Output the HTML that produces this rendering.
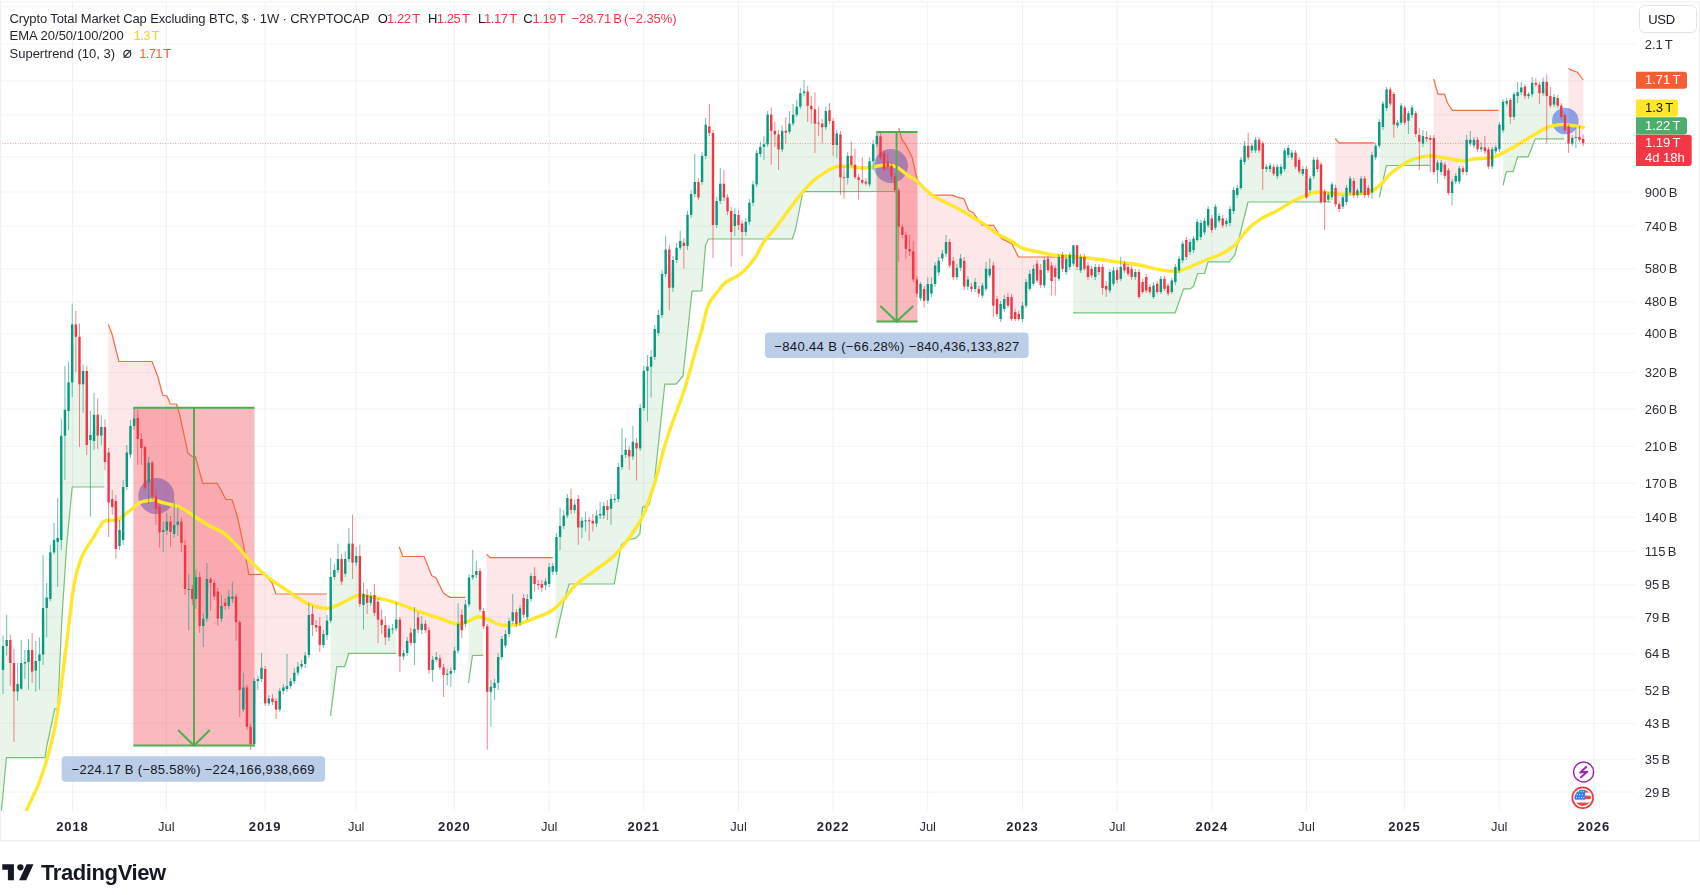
<!DOCTYPE html>
<html><head><meta charset="utf-8"><title>Crypto Total Market Cap Excluding BTC</title>
<style>
html,body{margin:0;padding:0;background:#fff;}
body{width:1700px;height:895px;overflow:hidden;position:relative;font-family:"Liberation Sans",sans-serif;}
svg{position:absolute;left:0;top:0;}
svg text{font-family:"Liberation Sans",sans-serif;}
</style></head><body>
<svg width="1700" height="895" viewBox="0 0 1700 895">
<defs><clipPath id="chartclip"><rect x="1" y="2" width="1634" height="809"/></clipPath></defs>
<g style="opacity:0.995"><g clip-path="url(#chartclip)">
<line x1="0" y1="6.69" x2="1635" y2="6.69" stroke="#f6f6f6" stroke-width="1.2"/>
<line x1="0" y1="44.00" x2="1635" y2="44.00" stroke="#f6f6f6" stroke-width="1.2"/>
<line x1="0" y1="80.92" x2="1635" y2="80.92" stroke="#f6f6f6" stroke-width="1.2"/>
<line x1="0" y1="114.83" x2="1635" y2="114.83" stroke="#f6f6f6" stroke-width="1.2"/>
<line x1="0" y1="156.97" x2="1635" y2="156.97" stroke="#f6f6f6" stroke-width="1.2"/>
<line x1="0" y1="192.02" x2="1635" y2="192.02" stroke="#f6f6f6" stroke-width="1.2"/>
<line x1="0" y1="226.22" x2="1635" y2="226.22" stroke="#f6f6f6" stroke-width="1.2"/>
<line x1="0" y1="268.78" x2="1635" y2="268.78" stroke="#f6f6f6" stroke-width="1.2"/>
<line x1="0" y1="301.84" x2="1635" y2="301.84" stroke="#f6f6f6" stroke-width="1.2"/>
<line x1="0" y1="333.69" x2="1635" y2="333.69" stroke="#f6f6f6" stroke-width="1.2"/>
<line x1="0" y1="372.68" x2="1635" y2="372.68" stroke="#f6f6f6" stroke-width="1.2"/>
<line x1="0" y1="408.95" x2="1635" y2="408.95" stroke="#f6f6f6" stroke-width="1.2"/>
<line x1="0" y1="446.26" x2="1635" y2="446.26" stroke="#f6f6f6" stroke-width="1.2"/>
<line x1="0" y1="483.18" x2="1635" y2="483.18" stroke="#f6f6f6" stroke-width="1.2"/>
<line x1="0" y1="517.10" x2="1635" y2="517.10" stroke="#f6f6f6" stroke-width="1.2"/>
<line x1="0" y1="551.46" x2="1635" y2="551.46" stroke="#f6f6f6" stroke-width="1.2"/>
<line x1="0" y1="584.84" x2="1635" y2="584.84" stroke="#f6f6f6" stroke-width="1.2"/>
<line x1="0" y1="617.06" x2="1635" y2="617.06" stroke="#f6f6f6" stroke-width="1.2"/>
<line x1="0" y1="653.84" x2="1635" y2="653.84" stroke="#f6f6f6" stroke-width="1.2"/>
<line x1="0" y1="690.12" x2="1635" y2="690.12" stroke="#f6f6f6" stroke-width="1.2"/>
<line x1="0" y1="723.32" x2="1635" y2="723.32" stroke="#f6f6f6" stroke-width="1.2"/>
<line x1="0" y1="759.28" x2="1635" y2="759.28" stroke="#f6f6f6" stroke-width="1.2"/>
<line x1="0" y1="792.13" x2="1635" y2="792.13" stroke="#f6f6f6" stroke-width="1.2"/>
<line x1="72.5" y1="2" x2="72.5" y2="811" stroke="#f1f1f2" stroke-width="1"/>
<line x1="166.3" y1="2" x2="166.3" y2="811" stroke="#f1f1f2" stroke-width="1"/>
<line x1="265.1" y1="2" x2="265.1" y2="811" stroke="#f1f1f2" stroke-width="1"/>
<line x1="356.2" y1="2" x2="356.2" y2="811" stroke="#f1f1f2" stroke-width="1"/>
<line x1="454.3" y1="2" x2="454.3" y2="811" stroke="#f1f1f2" stroke-width="1"/>
<line x1="549.2" y1="2" x2="549.2" y2="811" stroke="#f1f1f2" stroke-width="1"/>
<line x1="643.7" y1="2" x2="643.7" y2="811" stroke="#f1f1f2" stroke-width="1"/>
<line x1="738.5" y1="2" x2="738.5" y2="811" stroke="#f1f1f2" stroke-width="1"/>
<line x1="833.1" y1="2" x2="833.1" y2="811" stroke="#f1f1f2" stroke-width="1"/>
<line x1="927.7" y1="2" x2="927.7" y2="811" stroke="#f1f1f2" stroke-width="1"/>
<line x1="1022.5" y1="2" x2="1022.5" y2="811" stroke="#f1f1f2" stroke-width="1"/>
<line x1="1117.2" y1="2" x2="1117.2" y2="811" stroke="#f1f1f2" stroke-width="1"/>
<line x1="1211.8" y1="2" x2="1211.8" y2="811" stroke="#f1f1f2" stroke-width="1"/>
<line x1="1306.5" y1="2" x2="1306.5" y2="811" stroke="#f1f1f2" stroke-width="1"/>
<line x1="1404.4" y1="2" x2="1404.4" y2="811" stroke="#f1f1f2" stroke-width="1"/>
<line x1="1499.2" y1="2" x2="1499.2" y2="811" stroke="#f1f1f2" stroke-width="1"/>
<line x1="1593.8" y1="2" x2="1593.8" y2="811" stroke="#f1f1f2" stroke-width="1"/>
<polygon points="0.0,822.0 2.5,800.0 6.4,757.7 45.0,757.7 47.0,745.0 52.5,720.0 54.7,708.8 57.8,708.8 61.8,620.0 66.7,545.0 72.2,487.0 104.5,487.0 104.5,444.5 105.0,444.5 101.3,431.3 97.7,425.1 94.0,427.9 90.4,437.5 86.8,408.0 83.1,377.6 79.5,360.6 75.8,330.6 72.2,353.4 68.6,396.7 64.9,422.8 61.3,487.9 57.6,540.0 54.0,546.2 50.4,575.7 46.7,602.8 43.1,631.2 39.4,657.8 35.8,665.8 32.2,660.8 28.5,656.0 24.9,662.8 21.2,675.9 17.6,687.8 13.9,677.2 10.3,651.5 6.7,643.0 3.0,658.0 0.0,658.0" fill="rgba(76,175,80,0.12)"/>
<polygon points="108.3,324.4 112.0,334.0 118.9,361.5 152.0,361.5 158.0,377.0 162.6,395.0 167.0,396.0 170.4,404.0 176.5,404.0 179.5,414.0 188.0,453.0 192.0,456.5 195.3,456.5 202.8,483.3 217.0,483.3 220.0,488.0 225.7,499.3 232.0,499.5 237.3,516.3 241.4,535.0 244.5,550.3 248.8,574.4 264.8,574.4 272.2,583.0 275.8,593.8 326.8,594.0 326.8,627.9 327.1,627.9 323.4,639.5 319.8,635.5 316.1,626.2 312.5,619.5 308.9,635.0 305.2,659.8 301.6,665.3 297.9,669.7 294.3,677.0 290.7,683.6 287.0,687.5 283.4,689.2 279.7,700.3 276.1,705.3 272.4,700.2 268.8,701.0 265.2,686.2 261.5,673.4 257.9,680.0 254.2,712.5 250.6,735.4 247.0,707.1 243.3,698.5 239.7,656.1 236.0,609.4 232.4,597.8 228.8,601.2 225.1,604.4 221.5,612.3 217.8,605.1 214.2,589.8 210.6,581.0 206.9,598.8 203.3,622.3 199.6,601.5 196.0,588.0 192.3,594.0 188.7,589.5 185.1,567.0 181.4,532.3 177.8,523.3 174.1,529.5 170.5,526.8 166.9,526.1 163.2,531.0 159.6,519.7 155.9,502.8 152.3,479.6 148.7,472.5 145.0,467.4 141.4,443.5 137.7,428.5 134.1,422.2 130.5,440.3 126.8,469.8 123.2,513.5 119.5,538.0 115.9,525.0 112.2,503.0 108.6,477.5 108.3,477.5" fill="rgba(242,54,69,0.12)"/>
<polygon points="330.5,716.0 336.8,666.7 344.6,666.7 348.8,653.3 396.2,653.3 396.2,624.0 396.2,624.0 392.6,629.0 389.0,633.0 385.3,631.2 381.7,622.3 378.0,610.7 374.4,603.9 370.7,599.4 367.1,598.9 363.5,599.5 359.8,580.0 356.2,559.2 352.5,553.1 348.9,551.3 345.3,566.4 341.6,570.3 338.0,564.5 334.3,573.5 330.7,598.9 330.5,598.9" fill="rgba(76,175,80,0.12)"/>
<polygon points="399.2,546.7 402.8,556.5 424.1,556.5 431.8,575.7 435.7,577.5 443.4,593.0 449.8,597.3 465.4,597.3 465.4,614.1 465.4,614.1 461.8,622.5 458.1,637.2 454.5,660.4 450.8,672.4 447.2,674.4 443.6,671.2 439.9,662.9 436.3,658.4 432.6,664.9 429.0,650.1 425.4,627.0 421.7,626.9 418.1,623.5 414.4,636.0 410.8,637.9 407.2,646.9 403.5,654.7 399.9,638.0 399.2,638.0" fill="rgba(242,54,69,0.12)"/>
<polygon points="468.5,683.0 472.5,655.5 483.2,655.4 483.2,618.6 483.6,618.6 480.0,590.3 476.3,573.0 472.7,576.2 469.1,591.0 468.5,591.0" fill="rgba(76,175,80,0.12)"/>
<polygon points="486.6,554.2 490.0,557.6 552.6,557.6 552.6,568.9 552.8,568.9 549.2,575.5 545.5,583.3 541.9,585.9 538.2,584.6 534.6,580.0 530.9,587.5 527.3,608.1 523.7,606.4 520.0,615.4 516.4,618.0 512.7,616.6 509.1,627.5 505.5,639.8 501.8,648.0 498.2,669.9 494.5,685.4 490.9,689.2 487.3,659.0 486.6,659.0" fill="rgba(242,54,69,0.12)"/>
<polygon points="555.7,638.0 564.0,600.8 569.3,584.0 614.3,583.8 621.2,545.0 627.7,540.0 635.8,538.2 639.8,534.2 642.5,507.4 649.2,504.7 654.5,480.6 664.8,384.2 676.2,384.2 683.0,376.0 692.0,291.2 701.8,291.0 705.5,245.5 708.5,239.0 792.3,239.0 795.4,230.0 802.9,191.6 894.6,191.5 894.6,183.4 895.0,183.4 891.4,171.1 887.8,164.6 884.1,161.1 880.5,146.9 876.8,140.1 873.2,152.7 869.5,172.8 865.9,182.6 862.3,181.3 858.6,178.7 855.0,171.0 851.3,160.2 847.7,166.9 844.1,177.8 840.4,155.9 836.8,139.2 833.1,133.0 829.5,115.6 825.9,119.1 822.2,125.4 818.6,123.2 814.9,116.4 811.3,107.5 807.7,98.7 804.0,92.3 800.4,99.9 796.7,110.7 793.1,119.2 789.4,127.6 785.8,131.7 782.2,140.2 778.5,141.9 774.9,132.6 771.2,122.8 767.6,129.4 764.0,145.6 760.3,150.4 756.7,168.7 753.0,193.6 749.4,212.2 745.8,226.9 742.1,227.8 738.5,220.0 734.8,220.0 731.2,221.5 727.6,204.4 723.9,190.6 720.3,192.3 716.6,213.0 713.0,179.0 709.3,129.7 705.7,140.3 702.1,169.0 698.4,189.8 694.8,188.0 691.1,204.4 687.5,230.4 683.9,244.3 680.2,244.4 676.6,253.9 672.9,273.9 669.3,268.6 665.7,261.8 662.0,294.5 658.4,324.0 654.7,343.0 651.1,361.9 647.5,368.9 643.8,389.4 640.2,428.2 636.5,445.7 632.9,449.1 629.3,453.1 625.6,452.4 622.0,461.0 618.3,483.0 614.7,499.4 611.0,503.9 607.4,508.0 603.8,510.8 600.1,514.8 596.5,519.5 592.8,522.1 589.2,520.8 585.6,520.8 581.9,524.1 578.3,513.2 574.6,507.4 571.0,504.5 567.4,506.8 563.7,520.8 560.1,531.5 556.4,554.4 555.7,554.4" fill="rgba(76,175,80,0.12)"/>
<polygon points="898.8,128.4 901.7,138.8 906.4,145.8 912.2,157.5 916.9,178.7 919.5,182.5 924.0,187.5 929.0,193.0 933.0,195.1 952.1,195.1 958.0,197.4 963.9,198.6 968.5,210.3 973.2,212.7 979.1,220.9 982.6,225.3 993.4,225.3 1001.8,238.6 1011.8,243.6 1018.5,257.0 1070.0,257.0 1070.0,261.0 1069.8,261.0 1066.2,265.4 1062.5,261.9 1058.9,267.9 1055.2,272.5 1051.6,273.2 1047.9,264.5 1044.3,272.8 1040.7,277.5 1037.0,272.1 1033.4,276.3 1029.7,281.4 1026.1,293.8 1022.5,312.3 1018.8,316.5 1015.2,315.5 1011.5,308.0 1007.9,301.3 1004.3,304.0 1000.6,311.5 997.0,306.5 993.3,285.5 989.7,272.1 986.1,278.9 982.4,290.6 978.8,291.3 975.1,285.5 971.5,287.8 967.8,283.1 964.2,273.7 960.6,263.1 956.9,272.5 953.3,269.0 949.6,253.8 946.0,247.8 942.4,256.0 938.7,266.6 935.1,274.8 931.4,288.8 927.8,292.4 924.2,294.9 920.5,291.1 916.9,286.6 913.2,265.4 909.6,250.2 906.0,242.0 902.3,230.9 898.7,208.6 898.8,208.6" fill="rgba(242,54,69,0.12)"/>
<polygon points="1073.0,312.8 1175.2,312.8 1183.6,288.9 1190.3,288.9 1193.6,286.3 1197.6,273.5 1204.6,273.5 1208.0,261.8 1229.2,261.8 1235.0,254.7 1248.0,202.0 1331.3,202.0 1331.3,197.2 1328.3,197.2 1324.7,196.7 1321.0,183.2 1317.4,164.3 1313.7,167.9 1310.1,184.3 1306.4,183.2 1302.8,171.4 1299.2,165.6 1295.5,159.8 1291.9,155.1 1288.2,151.5 1284.6,159.7 1281.0,170.3 1277.3,171.5 1273.7,170.3 1270.0,167.3 1266.4,167.9 1262.8,156.2 1259.1,145.1 1255.5,145.1 1251.8,148.1 1248.2,151.6 1244.6,153.8 1240.9,173.8 1237.3,191.5 1233.6,200.5 1230.0,216.0 1226.3,222.4 1222.7,221.9 1219.1,218.3 1215.4,217.1 1211.8,224.2 1208.1,217.2 1204.5,226.6 1200.9,230.0 1197.2,230.9 1193.6,244.3 1189.9,247.0 1186.3,248.5 1182.7,252.0 1179.0,264.5 1175.4,274.5 1171.7,286.2 1168.1,289.6 1164.5,283.9 1160.8,285.4 1157.2,287.9 1153.5,291.2 1149.9,289.5 1146.3,283.8 1142.6,287.0 1139.0,284.5 1135.3,274.5 1131.7,272.9 1128.0,270.4 1124.4,267.0 1120.8,272.8 1117.1,275.0 1113.5,277.1 1109.8,281.2 1106.2,287.8 1102.6,277.5 1098.9,269.5 1095.3,272.0 1091.6,272.1 1088.0,271.2 1084.4,262.9 1080.7,263.7 1077.1,256.1 1073.4,254.5 1073.0,254.5" fill="rgba(76,175,80,0.12)"/>
<polygon points="1335.3,138.6 1339.0,142.9 1374.6,142.9 1374.6,173.8 1372.0,173.8 1368.3,191.4 1364.7,186.8 1361.1,185.6 1357.4,192.6 1353.8,187.9 1350.1,185.6 1346.5,194.9 1342.9,201.9 1339.2,206.7 1335.6,196.1 1335.3,196.1" fill="rgba(242,54,69,0.12)"/>
<polygon points="1379.3,197.3 1386.5,165.5 1429.8,165.4 1429.8,138.9 1430.2,138.9 1426.6,137.9 1423.0,139.8 1419.3,138.3 1415.7,123.6 1412.0,111.3 1408.4,117.0 1404.8,115.1 1401.1,114.2 1397.5,124.1 1393.8,109.3 1390.2,96.5 1386.5,98.7 1382.9,115.2 1379.3,133.8 1379.3,133.8" fill="rgba(76,175,80,0.12)"/>
<polygon points="1433.6,79.0 1438.0,94.2 1444.6,94.2 1447.4,102.7 1452.2,110.3 1498.7,110.3 1498.7,149.3 1495.8,149.3 1492.1,157.9 1488.5,157.9 1484.8,149.3 1481.2,148.4 1477.6,144.6 1473.9,142.7 1470.3,141.7 1466.6,155.9 1463.0,170.2 1459.4,174.9 1455.7,178.8 1452.1,187.3 1448.4,181.6 1444.8,170.2 1441.2,167.3 1437.5,166.4 1433.9,154.9 1433.6,154.9" fill="rgba(242,54,69,0.12)"/>
<polygon points="1503.1,185.4 1506.3,171.7 1513.0,171.7 1517.7,156.9 1528.2,156.9 1535.4,138.8 1564.3,138.8 1564.3,111.3 1561.3,111.3 1557.7,101.8 1554.0,100.8 1550.4,100.8 1546.7,88.9 1543.1,87.5 1539.5,89.0 1535.8,83.8 1532.2,88.5 1528.5,95.2 1524.9,91.3 1521.3,89.9 1517.6,94.2 1514.0,105.6 1510.3,108.5 1506.7,102.2 1503.1,116.1 1503.1,116.1" fill="rgba(76,175,80,0.12)"/>
<polygon points="1568.4,68.5 1571.9,70.4 1577.6,72.3 1583.3,80.0 1583.3,141.1 1583.2,141.1 1579.5,138.4 1575.9,137.4 1572.2,140.8 1568.6,135.1 1568.4,135.1" fill="rgba(242,54,69,0.12)"/>
<circle cx="156.3" cy="496" r="18" fill="rgba(35,85,225,0.5)"/>
<circle cx="891" cy="166" r="17" fill="rgba(35,85,225,0.5)"/>
<circle cx="1565.3" cy="121" r="13.3" fill="rgba(35,85,225,0.5)"/>
<rect x="133.3" y="407.8" width="121.2" height="337.7" fill="rgba(242,54,69,0.35)"/>
<rect x="876.5" y="131.9" width="41" height="189.6" fill="rgba(242,54,69,0.35)"/>
<polyline points="0.0,822.0 2.5,800.0 6.4,757.7 45.0,757.7 47.0,745.0 52.5,720.0 54.7,708.8 57.8,708.8 61.8,620.0 66.7,545.0 72.2,487.0 104.5,487.0" fill="none" stroke="#4CAF50" stroke-width="1.2" stroke-opacity="0.75" stroke-linejoin="round"/>
<polyline points="108.3,324.4 112.0,334.0 118.9,361.5 152.0,361.5 158.0,377.0 162.6,395.0 167.0,396.0 170.4,404.0 176.5,404.0 179.5,414.0 188.0,453.0 192.0,456.5 195.3,456.5 202.8,483.3 217.0,483.3 220.0,488.0 225.7,499.3 232.0,499.5 237.3,516.3 241.4,535.0 244.5,550.3 248.8,574.4 264.8,574.4 272.2,583.0 275.8,593.8 326.8,594.0" fill="none" stroke="#F2653A" stroke-width="1.2" stroke-opacity="0.95" stroke-linejoin="round"/>
<polyline points="330.5,716.0 336.8,666.7 344.6,666.7 348.8,653.3 396.2,653.3" fill="none" stroke="#4CAF50" stroke-width="1.2" stroke-opacity="0.75" stroke-linejoin="round"/>
<polyline points="399.2,546.7 402.8,556.5 424.1,556.5 431.8,575.7 435.7,577.5 443.4,593.0 449.8,597.3 465.4,597.3" fill="none" stroke="#F2653A" stroke-width="1.2" stroke-opacity="0.95" stroke-linejoin="round"/>
<polyline points="468.5,683.0 472.5,655.5 483.2,655.4" fill="none" stroke="#4CAF50" stroke-width="1.2" stroke-opacity="0.75" stroke-linejoin="round"/>
<polyline points="486.6,554.2 490.0,557.6 552.6,557.6" fill="none" stroke="#F2653A" stroke-width="1.2" stroke-opacity="0.95" stroke-linejoin="round"/>
<polyline points="555.7,638.0 564.0,600.8 569.3,584.0 614.3,583.8 621.2,545.0 627.7,540.0 635.8,538.2 639.8,534.2 642.5,507.4 649.2,504.7 654.5,480.6 664.8,384.2 676.2,384.2 683.0,376.0 692.0,291.2 701.8,291.0 705.5,245.5 708.5,239.0 792.3,239.0 795.4,230.0 802.9,191.6 894.6,191.5" fill="none" stroke="#4CAF50" stroke-width="1.2" stroke-opacity="0.75" stroke-linejoin="round"/>
<polyline points="898.8,128.4 901.7,138.8 906.4,145.8 912.2,157.5 916.9,178.7 919.5,182.5 924.0,187.5 929.0,193.0 933.0,195.1 952.1,195.1 958.0,197.4 963.9,198.6 968.5,210.3 973.2,212.7 979.1,220.9 982.6,225.3 993.4,225.3 1001.8,238.6 1011.8,243.6 1018.5,257.0 1070.0,257.0" fill="none" stroke="#F2653A" stroke-width="1.2" stroke-opacity="0.95" stroke-linejoin="round"/>
<polyline points="1073.0,312.8 1175.2,312.8 1183.6,288.9 1190.3,288.9 1193.6,286.3 1197.6,273.5 1204.6,273.5 1208.0,261.8 1229.2,261.8 1235.0,254.7 1248.0,202.0 1331.3,202.0" fill="none" stroke="#4CAF50" stroke-width="1.2" stroke-opacity="0.75" stroke-linejoin="round"/>
<polyline points="1335.3,138.6 1339.0,142.9 1374.6,142.9" fill="none" stroke="#F2653A" stroke-width="1.2" stroke-opacity="0.95" stroke-linejoin="round"/>
<polyline points="1379.3,197.3 1386.5,165.5 1429.8,165.4" fill="none" stroke="#4CAF50" stroke-width="1.2" stroke-opacity="0.75" stroke-linejoin="round"/>
<polyline points="1433.6,79.0 1438.0,94.2 1444.6,94.2 1447.4,102.7 1452.2,110.3 1498.7,110.3" fill="none" stroke="#F2653A" stroke-width="1.2" stroke-opacity="0.95" stroke-linejoin="round"/>
<polyline points="1503.1,185.4 1506.3,171.7 1513.0,171.7 1517.7,156.9 1528.2,156.9 1535.4,138.8 1564.3,138.8" fill="none" stroke="#4CAF50" stroke-width="1.2" stroke-opacity="0.75" stroke-linejoin="round"/>
<polyline points="1568.4,68.5 1571.9,70.4 1577.6,72.3 1583.3,80.0" fill="none" stroke="#F2653A" stroke-width="1.2" stroke-opacity="0.95" stroke-linejoin="round"/>
<path d="M23.5,822.0 C24.0,820.1 23.8,817.3 26.5,810.5 C29.2,803.7 35.8,791.8 39.8,781.0 C43.8,770.2 47.6,757.7 50.6,746.0 C53.6,734.3 55.2,727.7 57.9,710.7 C60.5,693.7 63.8,665.2 66.5,644.0 C69.2,622.8 71.7,598.2 74.3,583.6 C76.9,569.0 78.8,564.1 82.1,556.3 C85.4,548.5 90.3,542.5 93.9,536.7 C97.5,531.0 100.3,524.5 103.6,521.8 C106.8,519.1 110.8,520.8 113.4,520.3 C116.0,519.8 116.7,520.5 119.3,519.0 C121.9,517.5 125.5,514.0 129.0,511.3 C132.4,508.6 136.6,504.3 140.0,502.5 C143.4,500.7 147.2,500.9 149.7,500.5 C152.2,500.1 152.9,499.7 155.0,500.0 C157.1,500.3 158.0,501.3 162.2,502.5 C166.4,503.7 174.6,505.0 180.0,507.3 C185.4,509.6 189.6,513.3 194.4,516.3 C199.2,519.3 203.9,522.8 208.7,525.5 C213.4,528.2 218.3,529.2 222.9,532.5 C227.5,535.8 231.8,540.3 236.3,545.0 C240.8,549.7 244.5,555.2 249.7,560.5 C254.9,565.8 260.9,571.5 267.6,576.8 C274.3,582.1 283.3,587.9 290.0,592.4 C296.7,596.9 301.7,601.0 307.8,603.6 C313.9,606.2 321.2,608.3 326.7,608.3 C332.2,608.3 335.9,605.7 340.8,603.6 C345.8,601.5 351.7,597.0 356.4,595.8 C361.1,594.6 362.6,595.3 368.9,596.4 C375.2,597.5 385.6,599.6 394.0,602.1 C402.4,604.6 411.7,608.9 419.0,611.5 C426.3,614.1 431.5,615.6 437.8,617.7 C444.1,619.8 451.4,623.5 456.6,624.0 C461.8,624.5 465.5,622.0 469.1,620.8 C472.8,619.6 475.4,617.0 478.5,616.8 C481.6,616.5 484.2,617.9 487.9,619.3 C491.5,620.6 495.7,624.0 500.4,624.9 C505.1,625.8 510.8,625.5 516.0,624.6 C521.2,623.7 526.0,621.5 531.7,619.3 C537.5,617.1 545.3,614.6 550.5,611.5 C555.7,608.4 558.8,604.9 563.0,600.5 C567.2,596.1 570.3,589.9 575.5,584.9 C580.7,579.9 588.0,575.5 594.3,570.8 C600.6,566.1 607.9,561.4 613.1,556.7 C618.3,552.0 620.9,548.9 625.6,542.6 C630.3,536.3 637.3,526.5 641.3,519.1 C645.3,511.7 647.1,504.5 649.5,498.0 C651.9,491.5 653.1,488.6 655.6,480.0 C658.1,471.4 661.7,456.0 664.5,446.5 C667.3,437.0 669.9,429.9 672.3,423.0 C674.7,416.1 676.8,411.3 679.0,405.0 C681.2,398.7 683.2,393.6 685.8,385.0 C688.4,376.4 692.1,362.6 694.7,353.7 C697.3,344.8 699.2,339.4 701.4,331.4 C703.6,323.4 705.5,312.2 708.1,305.7 C710.7,299.2 714.0,296.2 717.0,292.3 C720.0,288.4 722.1,285.3 726.0,282.2 C729.9,279.1 735.9,277.8 740.6,273.8 C745.4,269.9 750.6,263.8 754.5,258.5 C758.4,253.2 760.2,247.2 763.8,242.0 C767.4,236.8 771.9,232.4 776.0,227.2 C780.1,221.9 784.3,215.9 788.4,210.5 C792.5,205.1 796.5,199.4 800.6,194.5 C804.7,189.6 808.5,185.0 813.0,181.0 C817.5,177.0 823.6,173.0 827.7,170.6 C831.8,168.2 834.2,167.0 837.5,166.3 C840.8,165.6 842.7,166.0 847.3,166.3 C851.9,166.6 859.8,168.1 865.1,168.0 C870.5,167.9 875.5,166.4 879.4,165.8 C883.3,165.2 885.7,164.2 888.8,164.6 C891.9,165.0 895.1,166.2 898.2,168.0 C901.3,169.8 904.4,172.9 907.5,175.1 C910.6,177.3 913.8,178.4 916.9,181.0 C920.0,183.6 923.2,187.7 926.3,190.4 C929.4,193.1 932.2,195.2 935.7,197.4 C939.2,199.6 943.5,201.3 947.4,203.3 C951.3,205.3 955.3,207.0 959.2,209.2 C963.1,211.3 967.0,213.9 970.9,216.2 C974.8,218.5 978.3,220.3 982.6,223.2 C986.9,226.1 992.2,230.8 996.8,233.6 C1001.4,236.4 1005.8,237.9 1010.0,240.3 C1014.2,242.7 1017.1,245.9 1021.9,247.8 C1026.7,249.8 1033.0,250.8 1038.6,252.0 C1044.2,253.2 1049.8,254.6 1055.4,255.3 C1061.0,256.1 1065.2,255.8 1072.2,256.5 C1079.2,257.1 1088.9,258.2 1097.3,259.2 C1105.7,260.2 1115.4,261.6 1122.4,262.6 C1129.4,263.6 1133.6,264.0 1139.2,265.0 C1144.8,266.0 1150.4,267.8 1156.0,268.8 C1161.6,269.9 1168.5,271.0 1172.7,271.3 C1176.9,271.6 1175.9,272.1 1181.0,270.4 C1186.1,268.7 1197.0,263.6 1203.5,261.0 C1210.0,258.4 1214.8,257.1 1220.0,254.5 C1225.2,251.9 1231.1,248.3 1234.5,245.6 C1237.9,242.8 1238.0,241.0 1240.5,238.0 C1243.0,235.0 1246.1,230.8 1249.6,227.5 C1253.1,224.2 1257.1,221.2 1261.6,218.4 C1266.1,215.6 1271.2,213.9 1276.7,210.9 C1282.2,207.9 1288.8,203.3 1294.8,200.3 C1300.8,197.3 1308.7,194.2 1313.0,192.8 C1317.3,191.5 1315.5,192.0 1320.7,192.2 C1325.9,192.4 1336.2,194.2 1344.0,194.2 C1351.8,194.2 1361.6,193.9 1367.6,192.4 C1373.6,190.9 1376.3,188.4 1380.0,185.4 C1383.7,182.4 1386.3,177.5 1389.5,174.5 C1392.7,171.5 1395.2,169.8 1399.0,167.3 C1402.8,164.8 1407.2,161.4 1412.3,159.5 C1417.4,157.6 1424.0,156.2 1429.4,155.9 C1434.8,155.6 1439.2,157.0 1444.6,157.8 C1450.0,158.6 1456.6,160.5 1461.7,160.7 C1466.8,160.9 1469.6,159.4 1475.0,158.8 C1480.4,158.2 1487.7,158.8 1494.0,156.9 C1500.3,155.0 1506.7,150.9 1513.0,147.4 C1519.3,143.9 1526.3,139.3 1532.0,136.0 C1537.7,132.7 1542.5,129.3 1547.2,127.4 C1552.0,125.5 1556.7,125.0 1560.5,124.6 C1564.3,124.2 1566.2,124.7 1570.0,125.2 C1573.8,125.7 1581.1,127.0 1583.3,127.4" fill="none" stroke="#FFE72B" stroke-width="3.4" stroke-linejoin="round" stroke-linecap="round"/>
<rect x="2.52" y="635.5" width="1" height="58.5" fill="#089981" opacity="0.6"/>
<rect x="1.82" y="646.0" width="2.4" height="24.0" fill="#089981"/>
<rect x="6.16" y="614.7" width="1" height="40.8" fill="#089981" opacity="0.6"/>
<rect x="5.46" y="640.0" width="2.4" height="6.0" fill="#089981"/>
<rect x="9.81" y="634.6" width="1" height="51.4" fill="#F23645" opacity="0.6"/>
<rect x="9.11" y="640.0" width="2.4" height="23.0" fill="#F23645"/>
<rect x="13.45" y="648.8" width="1" height="93.0" fill="#F23645" opacity="0.6"/>
<rect x="12.75" y="663.0" width="2.4" height="28.5" fill="#F23645"/>
<rect x="17.09" y="663.0" width="1" height="38.0" fill="#089981" opacity="0.6"/>
<rect x="16.39" y="684.0" width="2.4" height="7.5" fill="#089981"/>
<rect x="20.73" y="640.0" width="1" height="49.5" fill="#089981" opacity="0.6"/>
<rect x="20.03" y="663.0" width="2.4" height="25.7" fill="#089981"/>
<rect x="24.37" y="650.0" width="1" height="29.0" fill="#089981" opacity="0.6"/>
<rect x="23.67" y="662.0" width="2.4" height="1.5" fill="#089981"/>
<rect x="28.01" y="639.0" width="1" height="50.6" fill="#089981" opacity="0.6"/>
<rect x="27.31" y="650.0" width="2.4" height="12.0" fill="#089981"/>
<rect x="31.65" y="633.0" width="1" height="50.0" fill="#F23645" opacity="0.6"/>
<rect x="30.95" y="650.0" width="2.4" height="21.6" fill="#F23645"/>
<rect x="35.29" y="641.0" width="1" height="50.5" fill="#089981" opacity="0.6"/>
<rect x="34.59" y="661.0" width="2.4" height="9.6" fill="#089981"/>
<rect x="38.93" y="637.4" width="1" height="52.2" fill="#089981" opacity="0.6"/>
<rect x="38.23" y="654.5" width="2.4" height="6.5" fill="#089981"/>
<rect x="42.57" y="555.0" width="1" height="110.0" fill="#089981" opacity="0.6"/>
<rect x="41.87" y="608.0" width="2.4" height="46.5" fill="#089981"/>
<rect x="46.21" y="583.0" width="1" height="54.4" fill="#089981" opacity="0.6"/>
<rect x="45.51" y="597.6" width="2.4" height="10.4" fill="#089981"/>
<rect x="49.86" y="545.0" width="1" height="56.3" fill="#089981" opacity="0.6"/>
<rect x="49.16" y="552.4" width="2.4" height="46.6" fill="#089981"/>
<rect x="53.50" y="523.0" width="1" height="31.3" fill="#089981" opacity="0.6"/>
<rect x="52.80" y="540.0" width="2.4" height="12.4" fill="#089981"/>
<rect x="57.14" y="498.0" width="1" height="88.9" fill="#089981" opacity="0.6"/>
<rect x="56.44" y="538.0" width="2.4" height="4.0" fill="#089981"/>
<rect x="60.78" y="418.4" width="1" height="131.6" fill="#089981" opacity="0.6"/>
<rect x="60.08" y="435.7" width="2.4" height="104.3" fill="#089981"/>
<rect x="64.42" y="366.0" width="1" height="114.0" fill="#089981" opacity="0.6"/>
<rect x="63.72" y="409.8" width="2.4" height="25.9" fill="#089981"/>
<rect x="68.06" y="361.5" width="1" height="68.5" fill="#089981" opacity="0.6"/>
<rect x="67.36" y="382.4" width="2.4" height="28.6" fill="#089981"/>
<rect x="71.70" y="303.5" width="1" height="93.5" fill="#089981" opacity="0.6"/>
<rect x="71.00" y="324.4" width="2.4" height="58.0" fill="#089981"/>
<rect x="75.34" y="311.0" width="1" height="61.0" fill="#F23645" opacity="0.6"/>
<rect x="74.64" y="324.4" width="2.4" height="12.4" fill="#F23645"/>
<rect x="78.98" y="323.5" width="1" height="123.5" fill="#F23645" opacity="0.6"/>
<rect x="78.28" y="336.8" width="2.4" height="47.5" fill="#F23645"/>
<rect x="82.62" y="364.3" width="1" height="48.5" fill="#089981" opacity="0.6"/>
<rect x="81.92" y="371.0" width="2.4" height="13.3" fill="#089981"/>
<rect x="86.26" y="366.0" width="1" height="89.0" fill="#F23645" opacity="0.6"/>
<rect x="85.56" y="371.0" width="2.4" height="74.0" fill="#F23645"/>
<rect x="89.90" y="411.0" width="1" height="105.6" fill="#089981" opacity="0.6"/>
<rect x="89.20" y="435.0" width="2.4" height="5.0" fill="#089981"/>
<rect x="93.55" y="392.8" width="1" height="57.2" fill="#089981" opacity="0.6"/>
<rect x="92.85" y="414.7" width="2.4" height="26.3" fill="#089981"/>
<rect x="97.19" y="398.5" width="1" height="50.5" fill="#F23645" opacity="0.6"/>
<rect x="96.49" y="414.7" width="2.4" height="20.9" fill="#F23645"/>
<rect x="100.83" y="415.6" width="1" height="29.4" fill="#089981" opacity="0.6"/>
<rect x="100.13" y="427.0" width="2.4" height="8.6" fill="#089981"/>
<rect x="104.47" y="419.4" width="1" height="50.6" fill="#F23645" opacity="0.6"/>
<rect x="103.77" y="427.0" width="2.4" height="35.0" fill="#F23645"/>
<rect x="108.11" y="448.0" width="1" height="89.0" fill="#F23645" opacity="0.6"/>
<rect x="107.41" y="452.5" width="2.4" height="50.0" fill="#F23645"/>
<rect x="111.75" y="490.0" width="1" height="25.0" fill="#F23645" opacity="0.6"/>
<rect x="111.05" y="499.0" width="2.4" height="8.0" fill="#F23645"/>
<rect x="115.39" y="495.0" width="1" height="63.8" fill="#F23645" opacity="0.6"/>
<rect x="114.69" y="501.0" width="2.4" height="48.0" fill="#F23645"/>
<rect x="119.03" y="520.0" width="1" height="30.0" fill="#089981" opacity="0.6"/>
<rect x="118.33" y="530.0" width="2.4" height="16.0" fill="#089981"/>
<rect x="122.67" y="480.0" width="1" height="65.0" fill="#089981" opacity="0.6"/>
<rect x="121.97" y="487.0" width="2.4" height="53.0" fill="#089981"/>
<rect x="126.31" y="445.0" width="1" height="45.0" fill="#089981" opacity="0.6"/>
<rect x="125.61" y="452.5" width="2.4" height="34.5" fill="#089981"/>
<rect x="129.95" y="420.0" width="1" height="38.0" fill="#089981" opacity="0.6"/>
<rect x="129.25" y="426.0" width="2.4" height="28.6" fill="#089981"/>
<rect x="133.59" y="408.0" width="1" height="22.0" fill="#089981" opacity="0.6"/>
<rect x="132.89" y="418.5" width="2.4" height="7.5" fill="#089981"/>
<rect x="137.24" y="410.0" width="1" height="55.0" fill="#F23645" opacity="0.6"/>
<rect x="136.54" y="418.0" width="2.4" height="21.0" fill="#F23645"/>
<rect x="140.88" y="433.0" width="1" height="32.0" fill="#F23645" opacity="0.6"/>
<rect x="140.18" y="439.0" width="2.4" height="9.0" fill="#F23645"/>
<rect x="144.52" y="445.6" width="1" height="44.4" fill="#F23645" opacity="0.6"/>
<rect x="143.82" y="447.0" width="2.4" height="40.7" fill="#F23645"/>
<rect x="148.16" y="457.0" width="1" height="46.8" fill="#089981" opacity="0.6"/>
<rect x="147.46" y="462.6" width="2.4" height="19.7" fill="#089981"/>
<rect x="151.80" y="460.8" width="1" height="39.2" fill="#F23645" opacity="0.6"/>
<rect x="151.10" y="462.6" width="2.4" height="34.0" fill="#F23645"/>
<rect x="155.44" y="489.4" width="1" height="35.6" fill="#F23645" opacity="0.6"/>
<rect x="154.74" y="496.6" width="2.4" height="12.4" fill="#F23645"/>
<rect x="159.08" y="505.0" width="1" height="42.6" fill="#F23645" opacity="0.6"/>
<rect x="158.38" y="507.0" width="2.4" height="25.4" fill="#F23645"/>
<rect x="162.72" y="521.6" width="1" height="30.4" fill="#089981" opacity="0.6"/>
<rect x="162.02" y="530.0" width="2.4" height="2.0" fill="#089981"/>
<rect x="166.36" y="512.7" width="1" height="22.3" fill="#089981" opacity="0.6"/>
<rect x="165.66" y="521.6" width="2.4" height="9.0" fill="#089981"/>
<rect x="170.00" y="516.0" width="1" height="30.7" fill="#F23645" opacity="0.6"/>
<rect x="169.30" y="521.6" width="2.4" height="10.4" fill="#F23645"/>
<rect x="173.64" y="500.2" width="1" height="37.8" fill="#089981" opacity="0.6"/>
<rect x="172.94" y="525.0" width="2.4" height="9.0" fill="#089981"/>
<rect x="177.28" y="507.3" width="1" height="28.7" fill="#089981" opacity="0.6"/>
<rect x="176.58" y="521.6" width="2.4" height="3.4" fill="#089981"/>
<rect x="180.93" y="518.0" width="1" height="34.0" fill="#F23645" opacity="0.6"/>
<rect x="180.23" y="521.6" width="2.4" height="21.4" fill="#F23645"/>
<rect x="184.57" y="540.0" width="1" height="55.0" fill="#F23645" opacity="0.6"/>
<rect x="183.87" y="545.0" width="2.4" height="44.0" fill="#F23645"/>
<rect x="188.21" y="574.0" width="1" height="56.0" fill="#089981" opacity="0.6"/>
<rect x="187.51" y="589.0" width="2.4" height="1.0" fill="#089981"/>
<rect x="191.85" y="585.0" width="1" height="20.0" fill="#F23645" opacity="0.6"/>
<rect x="191.15" y="589.0" width="2.4" height="10.0" fill="#F23645"/>
<rect x="195.49" y="569.5" width="1" height="39.3" fill="#089981" opacity="0.6"/>
<rect x="194.79" y="577.0" width="2.4" height="22.0" fill="#089981"/>
<rect x="199.13" y="572.0" width="1" height="61.0" fill="#F23645" opacity="0.6"/>
<rect x="198.43" y="577.0" width="2.4" height="49.0" fill="#F23645"/>
<rect x="202.77" y="613.7" width="1" height="33.3" fill="#089981" opacity="0.6"/>
<rect x="202.07" y="618.6" width="2.4" height="7.4" fill="#089981"/>
<rect x="206.41" y="563.0" width="1" height="59.0" fill="#089981" opacity="0.6"/>
<rect x="205.71" y="579.0" width="2.4" height="39.6" fill="#089981"/>
<rect x="210.05" y="577.0" width="1" height="34.0" fill="#F23645" opacity="0.6"/>
<rect x="209.35" y="579.0" width="2.4" height="4.0" fill="#F23645"/>
<rect x="213.69" y="580.0" width="1" height="20.0" fill="#F23645" opacity="0.6"/>
<rect x="212.99" y="583.0" width="2.4" height="13.5" fill="#F23645"/>
<rect x="217.33" y="588.0" width="1" height="38.0" fill="#F23645" opacity="0.6"/>
<rect x="216.63" y="591.6" width="2.4" height="27.0" fill="#F23645"/>
<rect x="220.97" y="595.0" width="1" height="27.0" fill="#089981" opacity="0.6"/>
<rect x="220.28" y="606.0" width="2.4" height="12.6" fill="#089981"/>
<rect x="224.62" y="598.0" width="1" height="12.0" fill="#F23645" opacity="0.6"/>
<rect x="223.92" y="602.7" width="2.4" height="3.3" fill="#F23645"/>
<rect x="228.26" y="590.0" width="1" height="19.0" fill="#089981" opacity="0.6"/>
<rect x="227.56" y="596.5" width="2.4" height="9.5" fill="#089981"/>
<rect x="231.90" y="581.8" width="1" height="21.2" fill="#089981" opacity="0.6"/>
<rect x="231.20" y="596.5" width="2.4" height="2.5" fill="#089981"/>
<rect x="235.54" y="594.0" width="1" height="46.8" fill="#F23645" opacity="0.6"/>
<rect x="234.84" y="596.5" width="2.4" height="25.8" fill="#F23645"/>
<rect x="239.18" y="620.0" width="1" height="97.0" fill="#F23645" opacity="0.6"/>
<rect x="238.48" y="622.3" width="2.4" height="67.7" fill="#F23645"/>
<rect x="242.82" y="672.7" width="1" height="39.3" fill="#089981" opacity="0.6"/>
<rect x="242.12" y="687.5" width="2.4" height="22.1" fill="#089981"/>
<rect x="246.46" y="685.0" width="1" height="45.0" fill="#F23645" opacity="0.6"/>
<rect x="245.76" y="687.5" width="2.4" height="39.3" fill="#F23645"/>
<rect x="250.10" y="724.0" width="1" height="26.0" fill="#F23645" opacity="0.6"/>
<rect x="249.40" y="726.8" width="2.4" height="17.2" fill="#F23645"/>
<rect x="253.74" y="678.0" width="1" height="69.0" fill="#089981" opacity="0.6"/>
<rect x="253.04" y="681.0" width="2.4" height="63.0" fill="#089981"/>
<rect x="257.38" y="676.0" width="1" height="14.0" fill="#089981" opacity="0.6"/>
<rect x="256.68" y="679.0" width="2.4" height="2.0" fill="#089981"/>
<rect x="261.02" y="653.0" width="1" height="29.0" fill="#089981" opacity="0.6"/>
<rect x="260.32" y="667.8" width="2.4" height="11.2" fill="#089981"/>
<rect x="264.67" y="666.0" width="1" height="40.0" fill="#F23645" opacity="0.6"/>
<rect x="263.97" y="669.0" width="2.4" height="34.4" fill="#F23645"/>
<rect x="268.31" y="695.0" width="1" height="11.0" fill="#089981" opacity="0.6"/>
<rect x="267.61" y="698.5" width="2.4" height="4.9" fill="#089981"/>
<rect x="271.95" y="694.0" width="1" height="11.0" fill="#F23645" opacity="0.6"/>
<rect x="271.25" y="698.5" width="2.4" height="3.5" fill="#F23645"/>
<rect x="275.59" y="698.0" width="1" height="21.0" fill="#F23645" opacity="0.6"/>
<rect x="274.89" y="701.0" width="2.4" height="8.6" fill="#F23645"/>
<rect x="279.23" y="688.0" width="1" height="24.0" fill="#089981" opacity="0.6"/>
<rect x="278.53" y="691.0" width="2.4" height="18.6" fill="#089981"/>
<rect x="282.87" y="684.0" width="1" height="10.0" fill="#089981" opacity="0.6"/>
<rect x="282.17" y="687.5" width="2.4" height="3.5" fill="#089981"/>
<rect x="286.51" y="654.0" width="1" height="38.0" fill="#089981" opacity="0.6"/>
<rect x="285.81" y="686.0" width="2.4" height="3.0" fill="#089981"/>
<rect x="290.15" y="678.0" width="1" height="11.0" fill="#089981" opacity="0.6"/>
<rect x="289.45" y="681.3" width="2.4" height="4.7" fill="#089981"/>
<rect x="293.79" y="668.0" width="1" height="16.0" fill="#089981" opacity="0.6"/>
<rect x="293.09" y="672.7" width="2.4" height="8.6" fill="#089981"/>
<rect x="297.43" y="662.0" width="1" height="14.0" fill="#089981" opacity="0.6"/>
<rect x="296.73" y="666.6" width="2.4" height="6.1" fill="#089981"/>
<rect x="301.07" y="660.0" width="1" height="9.0" fill="#089981" opacity="0.6"/>
<rect x="300.37" y="664.0" width="2.4" height="2.6" fill="#089981"/>
<rect x="304.71" y="652.0" width="1" height="16.0" fill="#089981" opacity="0.6"/>
<rect x="304.01" y="655.5" width="2.4" height="8.5" fill="#089981"/>
<rect x="308.36" y="602.8" width="1" height="55.2" fill="#089981" opacity="0.6"/>
<rect x="307.66" y="615.0" width="2.4" height="40.0" fill="#089981"/>
<rect x="312.00" y="606.0" width="1" height="30.0" fill="#F23645" opacity="0.6"/>
<rect x="311.30" y="614.0" width="2.4" height="11.0" fill="#F23645"/>
<rect x="315.64" y="620.0" width="1" height="12.0" fill="#F23645" opacity="0.6"/>
<rect x="314.94" y="625.0" width="2.4" height="2.5" fill="#F23645"/>
<rect x="319.28" y="617.0" width="1" height="35.0" fill="#F23645" opacity="0.6"/>
<rect x="318.58" y="626.0" width="2.4" height="19.0" fill="#F23645"/>
<rect x="322.92" y="630.0" width="1" height="18.0" fill="#089981" opacity="0.6"/>
<rect x="322.22" y="634.0" width="2.4" height="11.0" fill="#089981"/>
<rect x="326.56" y="615.0" width="1" height="25.0" fill="#089981" opacity="0.6"/>
<rect x="325.86" y="620.7" width="2.4" height="14.3" fill="#089981"/>
<rect x="330.20" y="558.0" width="1" height="65.0" fill="#089981" opacity="0.6"/>
<rect x="329.50" y="577.0" width="2.4" height="43.7" fill="#089981"/>
<rect x="333.84" y="563.7" width="1" height="16.3" fill="#089981" opacity="0.6"/>
<rect x="333.14" y="570.0" width="2.4" height="7.0" fill="#089981"/>
<rect x="337.48" y="543.6" width="1" height="29.4" fill="#089981" opacity="0.6"/>
<rect x="336.78" y="559.0" width="2.4" height="11.0" fill="#089981"/>
<rect x="341.12" y="553.6" width="1" height="31.4" fill="#F23645" opacity="0.6"/>
<rect x="340.42" y="559.0" width="2.4" height="22.6" fill="#F23645"/>
<rect x="344.76" y="551.4" width="1" height="25.6" fill="#089981" opacity="0.6"/>
<rect x="344.06" y="559.0" width="2.4" height="14.7" fill="#089981"/>
<rect x="348.40" y="528.0" width="1" height="34.0" fill="#089981" opacity="0.6"/>
<rect x="347.70" y="543.6" width="2.4" height="15.4" fill="#089981"/>
<rect x="352.05" y="514.5" width="1" height="64.5" fill="#F23645" opacity="0.6"/>
<rect x="351.35" y="543.6" width="2.4" height="19.0" fill="#F23645"/>
<rect x="355.69" y="547.0" width="1" height="19.0" fill="#089981" opacity="0.6"/>
<rect x="354.99" y="555.9" width="2.4" height="6.7" fill="#089981"/>
<rect x="359.33" y="544.7" width="1" height="62.3" fill="#F23645" opacity="0.6"/>
<rect x="358.63" y="555.9" width="2.4" height="48.1" fill="#F23645"/>
<rect x="362.97" y="582.7" width="1" height="46.9" fill="#089981" opacity="0.6"/>
<rect x="362.27" y="593.9" width="2.4" height="11.1" fill="#089981"/>
<rect x="366.61" y="589.0" width="1" height="25.0" fill="#F23645" opacity="0.6"/>
<rect x="365.91" y="595.0" width="2.4" height="7.8" fill="#F23645"/>
<rect x="370.25" y="592.0" width="1" height="14.0" fill="#089981" opacity="0.6"/>
<rect x="369.55" y="596.0" width="2.4" height="6.8" fill="#089981"/>
<rect x="373.89" y="583.8" width="1" height="32.2" fill="#F23645" opacity="0.6"/>
<rect x="373.19" y="595.0" width="2.4" height="17.8" fill="#F23645"/>
<rect x="377.53" y="598.0" width="1" height="45.0" fill="#F23645" opacity="0.6"/>
<rect x="376.83" y="601.7" width="2.4" height="17.9" fill="#F23645"/>
<rect x="381.17" y="609.5" width="1" height="24.5" fill="#F23645" opacity="0.6"/>
<rect x="380.47" y="619.6" width="2.4" height="5.4" fill="#F23645"/>
<rect x="384.81" y="616.2" width="1" height="28.8" fill="#F23645" opacity="0.6"/>
<rect x="384.11" y="625.0" width="2.4" height="12.4" fill="#F23645"/>
<rect x="388.45" y="625.0" width="1" height="16.0" fill="#089981" opacity="0.6"/>
<rect x="387.75" y="628.5" width="2.4" height="8.9" fill="#089981"/>
<rect x="392.09" y="624.0" width="1" height="10.0" fill="#089981" opacity="0.6"/>
<rect x="391.39" y="628.5" width="2.4" height="1.1" fill="#089981"/>
<rect x="395.74" y="602.8" width="1" height="28.2" fill="#089981" opacity="0.6"/>
<rect x="395.04" y="619.6" width="2.4" height="8.9" fill="#089981"/>
<rect x="399.38" y="617.0" width="1" height="55.0" fill="#F23645" opacity="0.6"/>
<rect x="398.68" y="619.6" width="2.4" height="36.8" fill="#F23645"/>
<rect x="403.02" y="650.0" width="1" height="10.0" fill="#089981" opacity="0.6"/>
<rect x="402.32" y="653.0" width="2.4" height="3.4" fill="#089981"/>
<rect x="406.66" y="637.0" width="1" height="19.0" fill="#089981" opacity="0.6"/>
<rect x="405.96" y="640.8" width="2.4" height="12.2" fill="#089981"/>
<rect x="410.30" y="628.0" width="1" height="18.0" fill="#F23645" opacity="0.6"/>
<rect x="409.60" y="632.7" width="2.4" height="10.3" fill="#F23645"/>
<rect x="413.94" y="607.0" width="1" height="58.0" fill="#089981" opacity="0.6"/>
<rect x="413.24" y="629.0" width="2.4" height="14.0" fill="#089981"/>
<rect x="417.58" y="612.0" width="1" height="21.0" fill="#F23645" opacity="0.6"/>
<rect x="416.88" y="617.3" width="2.4" height="12.3" fill="#F23645"/>
<rect x="421.22" y="616.0" width="1" height="18.0" fill="#089981" opacity="0.6"/>
<rect x="420.52" y="623.8" width="2.4" height="6.2" fill="#089981"/>
<rect x="424.86" y="620.0" width="1" height="13.0" fill="#F23645" opacity="0.6"/>
<rect x="424.16" y="623.8" width="2.4" height="6.4" fill="#F23645"/>
<rect x="428.50" y="627.0" width="1" height="46.8" fill="#F23645" opacity="0.6"/>
<rect x="427.80" y="630.2" width="2.4" height="39.8" fill="#F23645"/>
<rect x="432.14" y="656.0" width="1" height="25.6" fill="#089981" opacity="0.6"/>
<rect x="431.44" y="659.7" width="2.4" height="10.3" fill="#089981"/>
<rect x="435.79" y="652.0" width="1" height="10.0" fill="#089981" opacity="0.6"/>
<rect x="435.09" y="657.0" width="2.4" height="2.7" fill="#089981"/>
<rect x="439.43" y="655.0" width="1" height="15.0" fill="#F23645" opacity="0.6"/>
<rect x="438.73" y="658.4" width="2.4" height="9.0" fill="#F23645"/>
<rect x="443.07" y="664.0" width="1" height="33.0" fill="#F23645" opacity="0.6"/>
<rect x="442.37" y="667.4" width="2.4" height="7.6" fill="#F23645"/>
<rect x="446.71" y="668.7" width="1" height="16.7" fill="#089981" opacity="0.6"/>
<rect x="446.01" y="673.8" width="2.4" height="1.2" fill="#089981"/>
<rect x="450.35" y="667.4" width="1" height="19.3" fill="#089981" opacity="0.6"/>
<rect x="449.65" y="671.0" width="2.4" height="2.8" fill="#089981"/>
<rect x="453.99" y="647.0" width="1" height="26.0" fill="#089981" opacity="0.6"/>
<rect x="453.29" y="650.7" width="2.4" height="19.3" fill="#089981"/>
<rect x="457.63" y="603.2" width="1" height="50.8" fill="#089981" opacity="0.6"/>
<rect x="456.93" y="623.8" width="2.4" height="26.9" fill="#089981"/>
<rect x="461.27" y="609.6" width="1" height="28.4" fill="#F23645" opacity="0.6"/>
<rect x="460.57" y="614.8" width="2.4" height="15.4" fill="#F23645"/>
<rect x="464.91" y="600.0" width="1" height="27.0" fill="#089981" opacity="0.6"/>
<rect x="464.21" y="604.5" width="2.4" height="19.3" fill="#089981"/>
<rect x="468.55" y="574.0" width="1" height="33.0" fill="#089981" opacity="0.6"/>
<rect x="467.85" y="577.5" width="2.4" height="27.0" fill="#089981"/>
<rect x="472.19" y="550.0" width="1" height="30.0" fill="#089981" opacity="0.6"/>
<rect x="471.49" y="575.0" width="2.4" height="2.5" fill="#089981"/>
<rect x="475.83" y="560.8" width="1" height="17.2" fill="#089981" opacity="0.6"/>
<rect x="475.13" y="571.0" width="2.4" height="4.0" fill="#089981"/>
<rect x="479.48" y="568.0" width="1" height="44.0" fill="#F23645" opacity="0.6"/>
<rect x="478.78" y="571.0" width="2.4" height="38.6" fill="#F23645"/>
<rect x="483.12" y="608.0" width="1" height="21.0" fill="#F23645" opacity="0.6"/>
<rect x="482.42" y="611.0" width="2.4" height="15.3" fill="#F23645"/>
<rect x="486.76" y="624.0" width="1" height="125.6" fill="#F23645" opacity="0.6"/>
<rect x="486.06" y="626.3" width="2.4" height="65.5" fill="#F23645"/>
<rect x="490.40" y="680.0" width="1" height="46.5" fill="#089981" opacity="0.6"/>
<rect x="489.70" y="686.7" width="2.4" height="5.1" fill="#089981"/>
<rect x="494.04" y="679.0" width="1" height="21.0" fill="#089981" opacity="0.6"/>
<rect x="493.34" y="682.8" width="2.4" height="5.2" fill="#089981"/>
<rect x="497.68" y="653.0" width="1" height="37.0" fill="#089981" opacity="0.6"/>
<rect x="496.98" y="657.0" width="2.4" height="25.8" fill="#089981"/>
<rect x="501.32" y="636.0" width="1" height="24.0" fill="#089981" opacity="0.6"/>
<rect x="500.62" y="639.0" width="2.4" height="18.0" fill="#089981"/>
<rect x="504.96" y="630.0" width="1" height="18.0" fill="#089981" opacity="0.6"/>
<rect x="504.26" y="634.0" width="2.4" height="11.6" fill="#089981"/>
<rect x="508.60" y="618.0" width="1" height="19.0" fill="#089981" opacity="0.6"/>
<rect x="507.90" y="621.0" width="2.4" height="13.0" fill="#089981"/>
<rect x="512.24" y="594.0" width="1" height="30.0" fill="#089981" opacity="0.6"/>
<rect x="511.54" y="612.2" width="2.4" height="8.8" fill="#089981"/>
<rect x="515.88" y="609.0" width="1" height="18.0" fill="#F23645" opacity="0.6"/>
<rect x="515.18" y="612.2" width="2.4" height="11.6" fill="#F23645"/>
<rect x="519.52" y="605.0" width="1" height="21.0" fill="#089981" opacity="0.6"/>
<rect x="518.82" y="608.3" width="2.4" height="14.2" fill="#089981"/>
<rect x="523.17" y="594.0" width="1" height="24.0" fill="#F23645" opacity="0.6"/>
<rect x="522.47" y="598.0" width="2.4" height="16.8" fill="#F23645"/>
<rect x="526.81" y="594.0" width="1" height="26.0" fill="#089981" opacity="0.6"/>
<rect x="526.11" y="599.0" width="2.4" height="18.3" fill="#089981"/>
<rect x="530.45" y="573.0" width="1" height="29.0" fill="#089981" opacity="0.6"/>
<rect x="529.75" y="576.0" width="2.4" height="23.0" fill="#089981"/>
<rect x="534.09" y="567.0" width="1" height="24.6" fill="#F23645" opacity="0.6"/>
<rect x="533.39" y="576.0" width="2.4" height="8.0" fill="#F23645"/>
<rect x="537.73" y="580.0" width="1" height="10.0" fill="#F23645" opacity="0.6"/>
<rect x="537.03" y="584.0" width="2.4" height="1.2" fill="#F23645"/>
<rect x="541.37" y="580.0" width="1" height="12.0" fill="#F23645" opacity="0.6"/>
<rect x="540.67" y="584.0" width="2.4" height="3.8" fill="#F23645"/>
<rect x="545.01" y="578.0" width="1" height="12.0" fill="#089981" opacity="0.6"/>
<rect x="544.31" y="581.4" width="2.4" height="3.8" fill="#089981"/>
<rect x="548.65" y="563.0" width="1" height="24.0" fill="#089981" opacity="0.6"/>
<rect x="547.95" y="567.0" width="2.4" height="17.0" fill="#089981"/>
<rect x="552.29" y="563.0" width="1" height="12.0" fill="#089981" opacity="0.6"/>
<rect x="551.59" y="566.0" width="2.4" height="5.7" fill="#089981"/>
<rect x="555.93" y="533.0" width="1" height="42.0" fill="#089981" opacity="0.6"/>
<rect x="555.23" y="537.0" width="2.4" height="34.7" fill="#089981"/>
<rect x="559.57" y="507.4" width="1" height="42.6" fill="#089981" opacity="0.6"/>
<rect x="558.87" y="526.0" width="2.4" height="11.0" fill="#089981"/>
<rect x="563.21" y="510.0" width="1" height="19.0" fill="#089981" opacity="0.6"/>
<rect x="562.51" y="515.5" width="2.4" height="10.5" fill="#089981"/>
<rect x="566.86" y="494.0" width="1" height="24.0" fill="#089981" opacity="0.6"/>
<rect x="566.16" y="498.0" width="2.4" height="17.5" fill="#089981"/>
<rect x="570.50" y="488.6" width="1" height="25.4" fill="#F23645" opacity="0.6"/>
<rect x="569.80" y="499.0" width="2.4" height="11.0" fill="#F23645"/>
<rect x="574.14" y="500.0" width="1" height="13.0" fill="#089981" opacity="0.6"/>
<rect x="573.44" y="504.7" width="2.4" height="5.3" fill="#089981"/>
<rect x="577.78" y="495.0" width="1" height="50.0" fill="#F23645" opacity="0.6"/>
<rect x="577.08" y="499.0" width="2.4" height="28.5" fill="#F23645"/>
<rect x="581.42" y="517.0" width="1" height="21.0" fill="#089981" opacity="0.6"/>
<rect x="580.72" y="520.8" width="2.4" height="6.7" fill="#089981"/>
<rect x="585.06" y="511.4" width="1" height="20.1" fill="#089981" opacity="0.6"/>
<rect x="584.36" y="520.3" width="2.4" height="1.0" fill="#089981"/>
<rect x="588.70" y="516.8" width="1" height="24.2" fill="#F23645" opacity="0.6"/>
<rect x="588.00" y="520.3" width="2.4" height="1.0" fill="#F23645"/>
<rect x="592.34" y="514.0" width="1" height="17.5" fill="#F23645" opacity="0.6"/>
<rect x="591.64" y="520.8" width="2.4" height="2.7" fill="#F23645"/>
<rect x="595.98" y="510.0" width="1" height="17.0" fill="#089981" opacity="0.6"/>
<rect x="595.28" y="515.5" width="2.4" height="8.0" fill="#089981"/>
<rect x="599.62" y="502.0" width="1" height="17.0" fill="#089981" opacity="0.6"/>
<rect x="598.92" y="514.0" width="2.4" height="1.5" fill="#089981"/>
<rect x="603.26" y="502.0" width="1" height="17.0" fill="#089981" opacity="0.6"/>
<rect x="602.56" y="506.0" width="2.4" height="9.5" fill="#089981"/>
<rect x="606.91" y="500.0" width="1" height="20.0" fill="#F23645" opacity="0.6"/>
<rect x="606.21" y="506.0" width="2.4" height="4.0" fill="#F23645"/>
<rect x="610.55" y="494.0" width="1" height="31.0" fill="#089981" opacity="0.6"/>
<rect x="609.85" y="499.0" width="2.4" height="9.8" fill="#089981"/>
<rect x="614.19" y="494.0" width="1" height="9.0" fill="#089981" opacity="0.6"/>
<rect x="613.49" y="498.8" width="2.4" height="1.1" fill="#089981"/>
<rect x="617.83" y="463.0" width="1" height="39.0" fill="#089981" opacity="0.6"/>
<rect x="617.13" y="467.0" width="2.4" height="32.0" fill="#089981"/>
<rect x="621.47" y="428.3" width="1" height="41.7" fill="#089981" opacity="0.6"/>
<rect x="620.77" y="455.0" width="2.4" height="12.0" fill="#089981"/>
<rect x="625.11" y="437.7" width="1" height="20.3" fill="#089981" opacity="0.6"/>
<rect x="624.41" y="449.8" width="2.4" height="5.2" fill="#089981"/>
<rect x="628.75" y="446.0" width="1" height="24.0" fill="#F23645" opacity="0.6"/>
<rect x="628.05" y="449.8" width="2.4" height="6.7" fill="#F23645"/>
<rect x="632.39" y="425.7" width="1" height="34.3" fill="#089981" opacity="0.6"/>
<rect x="631.69" y="441.7" width="2.4" height="14.8" fill="#089981"/>
<rect x="636.03" y="438.0" width="1" height="42.6" fill="#F23645" opacity="0.6"/>
<rect x="635.33" y="443.0" width="2.4" height="5.4" fill="#F23645"/>
<rect x="639.67" y="404.0" width="1" height="47.0" fill="#089981" opacity="0.6"/>
<rect x="638.97" y="408.0" width="2.4" height="40.4" fill="#089981"/>
<rect x="643.31" y="366.0" width="1" height="45.0" fill="#089981" opacity="0.6"/>
<rect x="642.61" y="370.7" width="2.4" height="37.3" fill="#089981"/>
<rect x="646.95" y="355.0" width="1" height="66.6" fill="#089981" opacity="0.6"/>
<rect x="646.25" y="366.7" width="2.4" height="4.3" fill="#089981"/>
<rect x="650.60" y="350.0" width="1" height="47.5" fill="#089981" opacity="0.6"/>
<rect x="649.90" y="357.0" width="2.4" height="9.7" fill="#089981"/>
<rect x="654.24" y="325.0" width="1" height="35.0" fill="#089981" opacity="0.6"/>
<rect x="653.54" y="329.0" width="2.4" height="28.0" fill="#089981"/>
<rect x="657.88" y="310.0" width="1" height="26.0" fill="#089981" opacity="0.6"/>
<rect x="657.18" y="315.0" width="2.4" height="18.0" fill="#089981"/>
<rect x="661.52" y="270.0" width="1" height="48.0" fill="#089981" opacity="0.6"/>
<rect x="660.82" y="274.0" width="2.4" height="41.0" fill="#089981"/>
<rect x="665.16" y="235.7" width="1" height="41.3" fill="#089981" opacity="0.6"/>
<rect x="664.46" y="249.6" width="2.4" height="24.4" fill="#089981"/>
<rect x="668.80" y="245.0" width="1" height="65.0" fill="#F23645" opacity="0.6"/>
<rect x="668.10" y="249.6" width="2.4" height="38.1" fill="#F23645"/>
<rect x="672.44" y="256.0" width="1" height="36.0" fill="#089981" opacity="0.6"/>
<rect x="671.74" y="260.0" width="2.4" height="27.7" fill="#089981"/>
<rect x="676.08" y="243.0" width="1" height="20.0" fill="#089981" opacity="0.6"/>
<rect x="675.38" y="247.8" width="2.4" height="12.2" fill="#089981"/>
<rect x="679.72" y="230.5" width="1" height="19.5" fill="#089981" opacity="0.6"/>
<rect x="679.02" y="240.9" width="2.4" height="6.9" fill="#089981"/>
<rect x="683.36" y="238.0" width="1" height="30.6" fill="#F23645" opacity="0.6"/>
<rect x="682.66" y="242.6" width="2.4" height="3.4" fill="#F23645"/>
<rect x="687.00" y="211.0" width="1" height="39.0" fill="#089981" opacity="0.6"/>
<rect x="686.30" y="214.9" width="2.4" height="31.1" fill="#089981"/>
<rect x="690.64" y="190.0" width="1" height="28.0" fill="#089981" opacity="0.6"/>
<rect x="689.94" y="194.0" width="2.4" height="20.9" fill="#089981"/>
<rect x="694.29" y="154.0" width="1" height="43.0" fill="#089981" opacity="0.6"/>
<rect x="693.59" y="182.0" width="2.4" height="12.0" fill="#089981"/>
<rect x="697.93" y="178.0" width="1" height="22.0" fill="#F23645" opacity="0.6"/>
<rect x="697.23" y="182.0" width="2.4" height="15.5" fill="#F23645"/>
<rect x="701.57" y="152.0" width="1" height="33.0" fill="#089981" opacity="0.6"/>
<rect x="700.87" y="156.0" width="2.4" height="26.0" fill="#089981"/>
<rect x="705.21" y="117.7" width="1" height="41.3" fill="#089981" opacity="0.6"/>
<rect x="704.51" y="124.7" width="2.4" height="31.3" fill="#089981"/>
<rect x="708.85" y="103.9" width="1" height="32.1" fill="#F23645" opacity="0.6"/>
<rect x="708.15" y="126.4" width="2.4" height="6.6" fill="#F23645"/>
<rect x="712.49" y="130.0" width="1" height="128.0" fill="#F23645" opacity="0.6"/>
<rect x="711.79" y="133.0" width="2.4" height="92.0" fill="#F23645"/>
<rect x="716.13" y="197.0" width="1" height="31.0" fill="#089981" opacity="0.6"/>
<rect x="715.43" y="201.0" width="2.4" height="24.0" fill="#089981"/>
<rect x="719.77" y="168.0" width="1" height="36.0" fill="#089981" opacity="0.6"/>
<rect x="719.07" y="183.7" width="2.4" height="17.3" fill="#089981"/>
<rect x="723.41" y="170.0" width="1" height="31.0" fill="#F23645" opacity="0.6"/>
<rect x="722.71" y="183.7" width="2.4" height="13.8" fill="#F23645"/>
<rect x="727.05" y="194.0" width="1" height="21.0" fill="#F23645" opacity="0.6"/>
<rect x="726.35" y="197.5" width="2.4" height="13.9" fill="#F23645"/>
<rect x="730.69" y="207.0" width="1" height="60.0" fill="#F23645" opacity="0.6"/>
<rect x="729.99" y="211.0" width="2.4" height="21.0" fill="#F23645"/>
<rect x="734.33" y="208.0" width="1" height="28.0" fill="#089981" opacity="0.6"/>
<rect x="733.63" y="214.0" width="2.4" height="12.0" fill="#089981"/>
<rect x="737.98" y="210.0" width="1" height="20.0" fill="#F23645" opacity="0.6"/>
<rect x="737.28" y="215.0" width="2.4" height="10.0" fill="#F23645"/>
<rect x="741.62" y="220.0" width="1" height="36.5" fill="#F23645" opacity="0.6"/>
<rect x="740.92" y="223.5" width="2.4" height="8.5" fill="#F23645"/>
<rect x="745.26" y="218.0" width="1" height="18.0" fill="#089981" opacity="0.6"/>
<rect x="744.56" y="221.8" width="2.4" height="10.2" fill="#089981"/>
<rect x="748.90" y="199.0" width="1" height="26.0" fill="#089981" opacity="0.6"/>
<rect x="748.20" y="202.7" width="2.4" height="19.1" fill="#089981"/>
<rect x="752.54" y="181.0" width="1" height="25.0" fill="#089981" opacity="0.6"/>
<rect x="751.84" y="184.4" width="2.4" height="18.3" fill="#089981"/>
<rect x="756.18" y="150.0" width="1" height="37.0" fill="#089981" opacity="0.6"/>
<rect x="755.48" y="153.0" width="2.4" height="31.4" fill="#089981"/>
<rect x="759.82" y="141.5" width="1" height="15.5" fill="#089981" opacity="0.6"/>
<rect x="759.12" y="146.9" width="2.4" height="7.1" fill="#089981"/>
<rect x="763.46" y="136.0" width="1" height="24.0" fill="#089981" opacity="0.6"/>
<rect x="762.76" y="144.2" width="2.4" height="2.7" fill="#089981"/>
<rect x="767.10" y="111.0" width="1" height="36.0" fill="#089981" opacity="0.6"/>
<rect x="766.40" y="114.7" width="2.4" height="29.5" fill="#089981"/>
<rect x="770.74" y="107.5" width="1" height="57.2" fill="#F23645" opacity="0.6"/>
<rect x="770.04" y="114.7" width="2.4" height="16.1" fill="#F23645"/>
<rect x="774.38" y="121.8" width="1" height="25.1" fill="#F23645" opacity="0.6"/>
<rect x="773.68" y="130.8" width="2.4" height="3.6" fill="#F23645"/>
<rect x="778.03" y="130.0" width="1" height="40.0" fill="#F23645" opacity="0.6"/>
<rect x="777.33" y="134.4" width="2.4" height="15.1" fill="#F23645"/>
<rect x="781.67" y="125.4" width="1" height="26.6" fill="#089981" opacity="0.6"/>
<rect x="780.97" y="130.8" width="2.4" height="18.7" fill="#089981"/>
<rect x="785.31" y="117.4" width="1" height="25.9" fill="#F23645" opacity="0.6"/>
<rect x="784.61" y="130.8" width="2.4" height="1.8" fill="#F23645"/>
<rect x="788.95" y="111.0" width="1" height="23.0" fill="#089981" opacity="0.6"/>
<rect x="788.25" y="123.6" width="2.4" height="8.1" fill="#089981"/>
<rect x="792.59" y="104.0" width="1" height="22.0" fill="#089981" opacity="0.6"/>
<rect x="791.89" y="114.7" width="2.4" height="8.9" fill="#089981"/>
<rect x="796.23" y="99.5" width="1" height="17.5" fill="#089981" opacity="0.6"/>
<rect x="795.53" y="106.6" width="2.4" height="8.1" fill="#089981"/>
<rect x="799.87" y="87.9" width="1" height="21.1" fill="#089981" opacity="0.6"/>
<rect x="799.17" y="93.2" width="2.4" height="13.4" fill="#089981"/>
<rect x="803.51" y="79.8" width="1" height="16.2" fill="#089981" opacity="0.6"/>
<rect x="802.81" y="91.5" width="2.4" height="1.7" fill="#089981"/>
<rect x="807.15" y="86.0" width="1" height="35.8" fill="#F23645" opacity="0.6"/>
<rect x="806.45" y="91.5" width="2.4" height="14.3" fill="#F23645"/>
<rect x="810.79" y="96.0" width="1" height="27.6" fill="#F23645" opacity="0.6"/>
<rect x="810.09" y="105.8" width="2.4" height="3.5" fill="#F23645"/>
<rect x="814.43" y="92.3" width="1" height="60.7" fill="#F23645" opacity="0.6"/>
<rect x="813.73" y="109.3" width="2.4" height="14.3" fill="#F23645"/>
<rect x="818.07" y="106.6" width="1" height="29.4" fill="#F23645" opacity="0.6"/>
<rect x="817.37" y="122.7" width="2.4" height="0.9" fill="#F23645"/>
<rect x="821.72" y="119.0" width="1" height="24.3" fill="#F23645" opacity="0.6"/>
<rect x="821.02" y="123.6" width="2.4" height="3.6" fill="#F23645"/>
<rect x="825.36" y="106.6" width="1" height="23.4" fill="#089981" opacity="0.6"/>
<rect x="824.66" y="111.0" width="2.4" height="16.2" fill="#089981"/>
<rect x="829.00" y="103.0" width="1" height="21.0" fill="#F23645" opacity="0.6"/>
<rect x="828.30" y="110.2" width="2.4" height="10.8" fill="#F23645"/>
<rect x="832.64" y="118.0" width="1" height="37.8" fill="#F23645" opacity="0.6"/>
<rect x="831.94" y="121.0" width="2.4" height="24.0" fill="#F23645"/>
<rect x="836.28" y="130.0" width="1" height="27.6" fill="#089981" opacity="0.6"/>
<rect x="835.58" y="133.5" width="2.4" height="11.5" fill="#089981"/>
<rect x="839.92" y="131.0" width="1" height="64.0" fill="#F23645" opacity="0.6"/>
<rect x="839.22" y="134.4" width="2.4" height="42.9" fill="#F23645"/>
<rect x="843.56" y="166.5" width="1" height="32.2" fill="#F23645" opacity="0.6"/>
<rect x="842.86" y="177.3" width="2.4" height="0.9" fill="#F23645"/>
<rect x="847.20" y="152.0" width="1" height="32.4" fill="#089981" opacity="0.6"/>
<rect x="846.50" y="155.8" width="2.4" height="22.2" fill="#089981"/>
<rect x="850.84" y="141.5" width="1" height="25.0" fill="#F23645" opacity="0.6"/>
<rect x="850.14" y="155.8" width="2.4" height="8.9" fill="#F23645"/>
<rect x="854.48" y="148.7" width="1" height="30.3" fill="#F23645" opacity="0.6"/>
<rect x="853.78" y="164.7" width="2.4" height="12.6" fill="#F23645"/>
<rect x="858.12" y="174.0" width="1" height="25.6" fill="#F23645" opacity="0.6"/>
<rect x="857.42" y="177.3" width="2.4" height="2.7" fill="#F23645"/>
<rect x="861.76" y="157.6" width="1" height="26.8" fill="#F23645" opacity="0.6"/>
<rect x="861.06" y="180.0" width="2.4" height="2.6" fill="#F23645"/>
<rect x="865.41" y="178.0" width="1" height="8.0" fill="#F23645" opacity="0.6"/>
<rect x="864.71" y="181.7" width="2.4" height="1.8" fill="#F23645"/>
<rect x="869.05" y="157.0" width="1" height="30.0" fill="#089981" opacity="0.6"/>
<rect x="868.35" y="161.2" width="2.4" height="23.2" fill="#089981"/>
<rect x="872.69" y="140.0" width="1" height="30.0" fill="#089981" opacity="0.6"/>
<rect x="871.99" y="144.2" width="2.4" height="17.0" fill="#089981"/>
<rect x="876.33" y="131.7" width="1" height="15.3" fill="#089981" opacity="0.6"/>
<rect x="875.63" y="136.0" width="2.4" height="8.2" fill="#089981"/>
<rect x="879.97" y="133.0" width="1" height="27.0" fill="#F23645" opacity="0.6"/>
<rect x="879.27" y="136.4" width="2.4" height="21.1" fill="#F23645"/>
<rect x="883.61" y="150.0" width="1" height="22.0" fill="#F23645" opacity="0.6"/>
<rect x="882.91" y="152.8" width="2.4" height="16.5" fill="#F23645"/>
<rect x="887.25" y="154.0" width="1" height="16.4" fill="#F23645" opacity="0.6"/>
<rect x="886.55" y="162.2" width="2.4" height="4.7" fill="#F23645"/>
<rect x="890.89" y="162.0" width="1" height="18.0" fill="#F23645" opacity="0.6"/>
<rect x="890.19" y="165.8" width="2.4" height="10.5" fill="#F23645"/>
<rect x="894.53" y="173.0" width="1" height="20.0" fill="#F23645" opacity="0.6"/>
<rect x="893.83" y="176.3" width="2.4" height="14.1" fill="#F23645"/>
<rect x="898.17" y="188.0" width="1" height="74.0" fill="#F23645" opacity="0.6"/>
<rect x="897.47" y="190.4" width="2.4" height="36.4" fill="#F23645"/>
<rect x="901.81" y="224.0" width="1" height="14.0" fill="#F23645" opacity="0.6"/>
<rect x="901.11" y="226.8" width="2.4" height="8.2" fill="#F23645"/>
<rect x="905.45" y="232.0" width="1" height="26.4" fill="#F23645" opacity="0.6"/>
<rect x="904.75" y="235.0" width="2.4" height="14.0" fill="#F23645"/>
<rect x="909.10" y="235.0" width="1" height="21.0" fill="#F23645" opacity="0.6"/>
<rect x="908.40" y="249.0" width="2.4" height="2.4" fill="#F23645"/>
<rect x="912.74" y="240.8" width="1" height="41.2" fill="#F23645" opacity="0.6"/>
<rect x="912.04" y="251.4" width="2.4" height="28.1" fill="#F23645"/>
<rect x="916.38" y="276.0" width="1" height="21.0" fill="#F23645" opacity="0.6"/>
<rect x="915.68" y="279.5" width="2.4" height="14.1" fill="#F23645"/>
<rect x="920.02" y="282.0" width="1" height="19.0" fill="#089981" opacity="0.6"/>
<rect x="919.32" y="284.0" width="2.4" height="14.3" fill="#089981"/>
<rect x="923.66" y="286.0" width="1" height="21.7" fill="#F23645" opacity="0.6"/>
<rect x="922.96" y="289.0" width="2.4" height="11.7" fill="#F23645"/>
<rect x="927.30" y="277.2" width="1" height="26.8" fill="#089981" opacity="0.6"/>
<rect x="926.60" y="284.0" width="2.4" height="16.7" fill="#089981"/>
<rect x="930.94" y="277.2" width="1" height="19.8" fill="#089981" opacity="0.6"/>
<rect x="930.24" y="284.0" width="2.4" height="9.6" fill="#089981"/>
<rect x="934.58" y="262.0" width="1" height="25.0" fill="#089981" opacity="0.6"/>
<rect x="933.88" y="265.5" width="2.4" height="18.5" fill="#089981"/>
<rect x="938.22" y="257.0" width="1" height="19.0" fill="#089981" opacity="0.6"/>
<rect x="937.52" y="260.8" width="2.4" height="11.7" fill="#089981"/>
<rect x="941.86" y="250.0" width="1" height="12.0" fill="#089981" opacity="0.6"/>
<rect x="941.16" y="253.7" width="2.4" height="4.7" fill="#089981"/>
<rect x="945.50" y="235.0" width="1" height="22.0" fill="#089981" opacity="0.6"/>
<rect x="944.80" y="242.0" width="2.4" height="11.7" fill="#089981"/>
<rect x="949.14" y="239.0" width="1" height="29.0" fill="#F23645" opacity="0.6"/>
<rect x="948.44" y="242.0" width="2.4" height="23.5" fill="#F23645"/>
<rect x="952.79" y="257.0" width="1" height="23.0" fill="#F23645" opacity="0.6"/>
<rect x="952.09" y="260.8" width="2.4" height="16.4" fill="#F23645"/>
<rect x="956.43" y="264.0" width="1" height="16.0" fill="#089981" opacity="0.6"/>
<rect x="955.73" y="267.8" width="2.4" height="9.4" fill="#089981"/>
<rect x="960.07" y="254.0" width="1" height="17.0" fill="#089981" opacity="0.6"/>
<rect x="959.37" y="258.4" width="2.4" height="9.4" fill="#089981"/>
<rect x="963.71" y="257.0" width="1" height="33.0" fill="#F23645" opacity="0.6"/>
<rect x="963.01" y="260.8" width="2.4" height="25.8" fill="#F23645"/>
<rect x="967.35" y="276.0" width="1" height="14.0" fill="#089981" opacity="0.6"/>
<rect x="966.65" y="279.5" width="2.4" height="7.1" fill="#089981"/>
<rect x="970.99" y="283.0" width="1" height="9.0" fill="#F23645" opacity="0.6"/>
<rect x="970.29" y="286.6" width="2.4" height="2.4" fill="#F23645"/>
<rect x="974.63" y="278.0" width="1" height="14.0" fill="#089981" opacity="0.6"/>
<rect x="973.93" y="282.0" width="2.4" height="7.0" fill="#089981"/>
<rect x="978.27" y="286.0" width="1" height="11.0" fill="#F23645" opacity="0.6"/>
<rect x="977.57" y="289.0" width="2.4" height="4.6" fill="#F23645"/>
<rect x="981.91" y="283.0" width="1" height="15.0" fill="#089981" opacity="0.6"/>
<rect x="981.21" y="285.5" width="2.4" height="10.1" fill="#089981"/>
<rect x="985.55" y="262.0" width="1" height="29.0" fill="#089981" opacity="0.6"/>
<rect x="984.85" y="268.8" width="2.4" height="20.1" fill="#089981"/>
<rect x="989.19" y="258.4" width="1" height="19.6" fill="#089981" opacity="0.6"/>
<rect x="988.49" y="268.8" width="2.4" height="6.7" fill="#089981"/>
<rect x="992.84" y="262.0" width="1" height="55.3" fill="#F23645" opacity="0.6"/>
<rect x="992.14" y="265.4" width="2.4" height="40.2" fill="#F23645"/>
<rect x="996.48" y="296.0" width="1" height="21.0" fill="#F23645" opacity="0.6"/>
<rect x="995.78" y="299.0" width="2.4" height="15.0" fill="#F23645"/>
<rect x="1000.12" y="301.0" width="1" height="21.0" fill="#089981" opacity="0.6"/>
<rect x="999.42" y="304.0" width="2.4" height="15.0" fill="#089981"/>
<rect x="1003.76" y="295.0" width="1" height="17.0" fill="#089981" opacity="0.6"/>
<rect x="1003.06" y="299.0" width="2.4" height="10.0" fill="#089981"/>
<rect x="1007.40" y="293.0" width="1" height="15.0" fill="#F23645" opacity="0.6"/>
<rect x="1006.70" y="297.0" width="2.4" height="8.6" fill="#F23645"/>
<rect x="1011.04" y="294.0" width="1" height="27.0" fill="#F23645" opacity="0.6"/>
<rect x="1010.34" y="297.0" width="2.4" height="22.0" fill="#F23645"/>
<rect x="1014.68" y="309.0" width="1" height="12.0" fill="#F23645" opacity="0.6"/>
<rect x="1013.98" y="312.0" width="2.4" height="7.0" fill="#F23645"/>
<rect x="1018.32" y="311.0" width="1" height="10.0" fill="#F23645" opacity="0.6"/>
<rect x="1017.62" y="314.0" width="2.4" height="5.0" fill="#F23645"/>
<rect x="1021.96" y="302.0" width="1" height="20.0" fill="#089981" opacity="0.6"/>
<rect x="1021.26" y="305.6" width="2.4" height="13.4" fill="#089981"/>
<rect x="1025.60" y="279.0" width="1" height="29.0" fill="#089981" opacity="0.6"/>
<rect x="1024.90" y="282.0" width="2.4" height="23.6" fill="#089981"/>
<rect x="1029.24" y="270.0" width="1" height="21.0" fill="#089981" opacity="0.6"/>
<rect x="1028.54" y="273.8" width="2.4" height="15.1" fill="#089981"/>
<rect x="1032.88" y="265.0" width="1" height="21.0" fill="#089981" opacity="0.6"/>
<rect x="1032.18" y="268.8" width="2.4" height="15.0" fill="#089981"/>
<rect x="1036.53" y="260.0" width="1" height="23.0" fill="#F23645" opacity="0.6"/>
<rect x="1035.83" y="263.7" width="2.4" height="16.8" fill="#F23645"/>
<rect x="1040.17" y="264.0" width="1" height="24.0" fill="#F23645" opacity="0.6"/>
<rect x="1039.47" y="270.0" width="2.4" height="15.0" fill="#F23645"/>
<rect x="1043.81" y="257.0" width="1" height="31.0" fill="#089981" opacity="0.6"/>
<rect x="1043.11" y="260.0" width="2.4" height="25.5" fill="#089981"/>
<rect x="1047.45" y="256.0" width="1" height="17.0" fill="#F23645" opacity="0.6"/>
<rect x="1046.75" y="258.7" width="2.4" height="11.7" fill="#F23645"/>
<rect x="1051.09" y="262.0" width="1" height="33.6" fill="#F23645" opacity="0.6"/>
<rect x="1050.39" y="265.4" width="2.4" height="15.6" fill="#F23645"/>
<rect x="1054.73" y="265.0" width="1" height="30.6" fill="#F23645" opacity="0.6"/>
<rect x="1054.03" y="268.0" width="2.4" height="9.0" fill="#F23645"/>
<rect x="1058.37" y="254.0" width="1" height="27.0" fill="#089981" opacity="0.6"/>
<rect x="1057.67" y="257.0" width="2.4" height="21.8" fill="#089981"/>
<rect x="1062.01" y="252.0" width="1" height="20.0" fill="#F23645" opacity="0.6"/>
<rect x="1061.31" y="255.0" width="2.4" height="13.8" fill="#F23645"/>
<rect x="1065.65" y="255.0" width="1" height="20.0" fill="#089981" opacity="0.6"/>
<rect x="1064.95" y="258.7" width="2.4" height="13.3" fill="#089981"/>
<rect x="1069.29" y="252.0" width="1" height="18.0" fill="#089981" opacity="0.6"/>
<rect x="1068.59" y="255.0" width="2.4" height="12.0" fill="#089981"/>
<rect x="1072.93" y="245.3" width="1" height="20.7" fill="#089981" opacity="0.6"/>
<rect x="1072.23" y="245.3" width="2.4" height="18.4" fill="#089981"/>
<rect x="1076.57" y="245.3" width="1" height="24.7" fill="#F23645" opacity="0.6"/>
<rect x="1075.87" y="245.3" width="2.4" height="21.7" fill="#F23645"/>
<rect x="1080.22" y="254.0" width="1" height="19.0" fill="#089981" opacity="0.6"/>
<rect x="1079.52" y="257.0" width="2.4" height="13.4" fill="#089981"/>
<rect x="1083.86" y="254.0" width="1" height="17.0" fill="#F23645" opacity="0.6"/>
<rect x="1083.16" y="257.0" width="2.4" height="11.8" fill="#F23645"/>
<rect x="1087.50" y="262.0" width="1" height="18.0" fill="#F23645" opacity="0.6"/>
<rect x="1086.80" y="265.4" width="2.4" height="11.6" fill="#F23645"/>
<rect x="1091.14" y="266.0" width="1" height="12.0" fill="#F23645" opacity="0.6"/>
<rect x="1090.44" y="268.8" width="2.4" height="6.7" fill="#F23645"/>
<rect x="1094.78" y="264.0" width="1" height="16.0" fill="#089981" opacity="0.6"/>
<rect x="1094.08" y="267.0" width="2.4" height="10.0" fill="#089981"/>
<rect x="1098.42" y="264.0" width="1" height="11.0" fill="#F23645" opacity="0.6"/>
<rect x="1097.72" y="267.0" width="2.4" height="5.0" fill="#F23645"/>
<rect x="1102.06" y="264.0" width="1" height="30.7" fill="#F23645" opacity="0.6"/>
<rect x="1101.36" y="267.0" width="2.4" height="21.0" fill="#F23645"/>
<rect x="1105.70" y="281.0" width="1" height="16.0" fill="#F23645" opacity="0.6"/>
<rect x="1105.00" y="286.0" width="2.4" height="3.5" fill="#F23645"/>
<rect x="1109.34" y="269.0" width="1" height="24.0" fill="#089981" opacity="0.6"/>
<rect x="1108.64" y="272.0" width="2.4" height="18.5" fill="#089981"/>
<rect x="1112.98" y="267.0" width="1" height="19.0" fill="#089981" opacity="0.6"/>
<rect x="1112.28" y="270.4" width="2.4" height="13.4" fill="#089981"/>
<rect x="1116.62" y="267.0" width="1" height="16.0" fill="#F23645" opacity="0.6"/>
<rect x="1115.92" y="270.0" width="2.4" height="10.0" fill="#F23645"/>
<rect x="1120.26" y="256.8" width="1" height="24.2" fill="#089981" opacity="0.6"/>
<rect x="1119.56" y="266.8" width="2.4" height="12.0" fill="#089981"/>
<rect x="1123.91" y="261.0" width="1" height="12.0" fill="#F23645" opacity="0.6"/>
<rect x="1123.21" y="263.7" width="2.4" height="6.7" fill="#F23645"/>
<rect x="1127.55" y="264.0" width="1" height="12.0" fill="#F23645" opacity="0.6"/>
<rect x="1126.85" y="267.0" width="2.4" height="6.8" fill="#F23645"/>
<rect x="1131.19" y="266.0" width="1" height="14.0" fill="#F23645" opacity="0.6"/>
<rect x="1130.49" y="268.8" width="2.4" height="8.2" fill="#F23645"/>
<rect x="1134.83" y="269.0" width="1" height="11.0" fill="#089981" opacity="0.6"/>
<rect x="1134.13" y="272.0" width="2.4" height="5.0" fill="#089981"/>
<rect x="1138.47" y="269.0" width="1" height="30.0" fill="#F23645" opacity="0.6"/>
<rect x="1137.77" y="272.0" width="2.4" height="25.0" fill="#F23645"/>
<rect x="1142.11" y="279.0" width="1" height="15.0" fill="#F23645" opacity="0.6"/>
<rect x="1141.41" y="282.0" width="2.4" height="10.0" fill="#F23645"/>
<rect x="1145.75" y="274.0" width="1" height="19.0" fill="#F23645" opacity="0.6"/>
<rect x="1145.05" y="277.0" width="2.4" height="13.5" fill="#F23645"/>
<rect x="1149.39" y="284.0" width="1" height="10.0" fill="#F23645" opacity="0.6"/>
<rect x="1148.69" y="287.0" width="2.4" height="5.0" fill="#F23645"/>
<rect x="1153.03" y="282.0" width="1" height="17.0" fill="#089981" opacity="0.6"/>
<rect x="1152.33" y="285.5" width="2.4" height="11.5" fill="#089981"/>
<rect x="1156.67" y="281.0" width="1" height="13.0" fill="#F23645" opacity="0.6"/>
<rect x="1155.97" y="283.8" width="2.4" height="8.2" fill="#F23645"/>
<rect x="1160.31" y="276.0" width="1" height="18.0" fill="#089981" opacity="0.6"/>
<rect x="1159.61" y="278.8" width="2.4" height="13.2" fill="#089981"/>
<rect x="1163.96" y="276.0" width="1" height="15.0" fill="#F23645" opacity="0.6"/>
<rect x="1163.26" y="278.8" width="2.4" height="10.1" fill="#F23645"/>
<rect x="1167.60" y="283.0" width="1" height="13.0" fill="#F23645" opacity="0.6"/>
<rect x="1166.90" y="285.5" width="2.4" height="8.1" fill="#F23645"/>
<rect x="1171.24" y="278.0" width="1" height="16.0" fill="#089981" opacity="0.6"/>
<rect x="1170.54" y="280.5" width="2.4" height="11.5" fill="#089981"/>
<rect x="1174.88" y="264.0" width="1" height="21.0" fill="#089981" opacity="0.6"/>
<rect x="1174.18" y="267.0" width="2.4" height="15.0" fill="#089981"/>
<rect x="1178.52" y="256.0" width="1" height="17.0" fill="#089981" opacity="0.6"/>
<rect x="1177.82" y="258.7" width="2.4" height="11.7" fill="#089981"/>
<rect x="1182.16" y="241.0" width="1" height="22.0" fill="#089981" opacity="0.6"/>
<rect x="1181.46" y="243.6" width="2.4" height="16.8" fill="#089981"/>
<rect x="1185.80" y="237.0" width="1" height="23.0" fill="#F23645" opacity="0.6"/>
<rect x="1185.10" y="240.0" width="2.4" height="17.0" fill="#F23645"/>
<rect x="1189.44" y="239.0" width="1" height="16.0" fill="#089981" opacity="0.6"/>
<rect x="1188.74" y="242.0" width="2.4" height="10.0" fill="#089981"/>
<rect x="1193.08" y="236.0" width="1" height="17.0" fill="#089981" opacity="0.6"/>
<rect x="1192.38" y="238.6" width="2.4" height="11.4" fill="#089981"/>
<rect x="1196.72" y="219.0" width="1" height="23.0" fill="#089981" opacity="0.6"/>
<rect x="1196.02" y="221.8" width="2.4" height="18.2" fill="#089981"/>
<rect x="1200.36" y="220.0" width="1" height="20.0" fill="#089981" opacity="0.6"/>
<rect x="1199.66" y="222.9" width="2.4" height="14.2" fill="#089981"/>
<rect x="1204.00" y="218.0" width="1" height="17.0" fill="#089981" opacity="0.6"/>
<rect x="1203.30" y="220.7" width="2.4" height="11.7" fill="#089981"/>
<rect x="1207.65" y="206.0" width="1" height="22.0" fill="#089981" opacity="0.6"/>
<rect x="1206.95" y="209.0" width="2.4" height="16.4" fill="#089981"/>
<rect x="1211.29" y="215.0" width="1" height="18.0" fill="#F23645" opacity="0.6"/>
<rect x="1210.59" y="218.4" width="2.4" height="11.7" fill="#F23645"/>
<rect x="1214.93" y="204.0" width="1" height="26.0" fill="#089981" opacity="0.6"/>
<rect x="1214.23" y="206.6" width="2.4" height="21.1" fill="#089981"/>
<rect x="1218.57" y="213.0" width="1" height="10.0" fill="#089981" opacity="0.6"/>
<rect x="1217.87" y="216.0" width="2.4" height="4.7" fill="#089981"/>
<rect x="1222.21" y="215.0" width="1" height="13.0" fill="#F23645" opacity="0.6"/>
<rect x="1221.51" y="218.4" width="2.4" height="7.0" fill="#F23645"/>
<rect x="1225.85" y="218.0" width="1" height="9.0" fill="#089981" opacity="0.6"/>
<rect x="1225.15" y="220.7" width="2.4" height="3.5" fill="#089981"/>
<rect x="1229.49" y="206.0" width="1" height="20.0" fill="#089981" opacity="0.6"/>
<rect x="1228.79" y="209.0" width="2.4" height="14.0" fill="#089981"/>
<rect x="1233.13" y="187.0" width="1" height="27.0" fill="#089981" opacity="0.6"/>
<rect x="1232.43" y="190.0" width="2.4" height="21.0" fill="#089981"/>
<rect x="1236.77" y="185.0" width="1" height="13.0" fill="#089981" opacity="0.6"/>
<rect x="1236.07" y="188.0" width="2.4" height="7.0" fill="#089981"/>
<rect x="1240.41" y="157.0" width="1" height="33.0" fill="#089981" opacity="0.6"/>
<rect x="1239.71" y="159.7" width="2.4" height="28.3" fill="#089981"/>
<rect x="1244.05" y="141.0" width="1" height="24.0" fill="#089981" opacity="0.6"/>
<rect x="1243.35" y="145.7" width="2.4" height="16.3" fill="#089981"/>
<rect x="1247.69" y="132.8" width="1" height="27.2" fill="#F23645" opacity="0.6"/>
<rect x="1246.99" y="145.7" width="2.4" height="11.7" fill="#F23645"/>
<rect x="1251.34" y="143.0" width="1" height="10.0" fill="#089981" opacity="0.6"/>
<rect x="1250.64" y="145.7" width="2.4" height="4.7" fill="#089981"/>
<rect x="1254.98" y="137.0" width="1" height="16.0" fill="#089981" opacity="0.6"/>
<rect x="1254.28" y="139.8" width="2.4" height="10.6" fill="#089981"/>
<rect x="1258.62" y="137.0" width="1" height="16.0" fill="#F23645" opacity="0.6"/>
<rect x="1257.92" y="139.8" width="2.4" height="10.6" fill="#F23645"/>
<rect x="1262.26" y="141.0" width="1" height="49.0" fill="#F23645" opacity="0.6"/>
<rect x="1261.56" y="143.3" width="2.4" height="25.7" fill="#F23645"/>
<rect x="1265.90" y="164.0" width="1" height="8.0" fill="#089981" opacity="0.6"/>
<rect x="1265.20" y="166.8" width="2.4" height="2.2" fill="#089981"/>
<rect x="1269.54" y="163.0" width="1" height="9.0" fill="#089981" opacity="0.6"/>
<rect x="1268.84" y="165.6" width="2.4" height="3.4" fill="#089981"/>
<rect x="1273.18" y="164.0" width="1" height="12.0" fill="#F23645" opacity="0.6"/>
<rect x="1272.48" y="166.8" width="2.4" height="7.0" fill="#F23645"/>
<rect x="1276.82" y="164.0" width="1" height="15.0" fill="#089981" opacity="0.6"/>
<rect x="1276.12" y="166.8" width="2.4" height="9.4" fill="#089981"/>
<rect x="1280.46" y="164.0" width="1" height="12.0" fill="#089981" opacity="0.6"/>
<rect x="1279.76" y="166.8" width="2.4" height="7.0" fill="#089981"/>
<rect x="1284.10" y="148.0" width="1" height="24.0" fill="#089981" opacity="0.6"/>
<rect x="1283.40" y="150.4" width="2.4" height="18.6" fill="#089981"/>
<rect x="1287.74" y="145.0" width="1" height="13.0" fill="#089981" opacity="0.6"/>
<rect x="1287.04" y="148.0" width="2.4" height="7.0" fill="#089981"/>
<rect x="1291.38" y="150.0" width="1" height="10.0" fill="#089981" opacity="0.6"/>
<rect x="1290.68" y="152.7" width="2.4" height="4.7" fill="#089981"/>
<rect x="1295.03" y="150.0" width="1" height="19.0" fill="#F23645" opacity="0.6"/>
<rect x="1294.33" y="152.7" width="2.4" height="14.1" fill="#F23645"/>
<rect x="1298.67" y="157.0" width="1" height="17.0" fill="#F23645" opacity="0.6"/>
<rect x="1297.97" y="159.7" width="2.4" height="11.8" fill="#F23645"/>
<rect x="1302.31" y="166.0" width="1" height="10.0" fill="#089981" opacity="0.6"/>
<rect x="1301.61" y="169.0" width="2.4" height="4.8" fill="#089981"/>
<rect x="1305.95" y="166.0" width="1" height="33.0" fill="#F23645" opacity="0.6"/>
<rect x="1305.25" y="169.0" width="2.4" height="28.3" fill="#F23645"/>
<rect x="1309.59" y="176.0" width="1" height="17.0" fill="#089981" opacity="0.6"/>
<rect x="1308.89" y="178.5" width="2.4" height="11.7" fill="#089981"/>
<rect x="1313.23" y="157.0" width="1" height="22.0" fill="#089981" opacity="0.6"/>
<rect x="1312.53" y="159.7" width="2.4" height="16.5" fill="#089981"/>
<rect x="1316.87" y="157.0" width="1" height="15.0" fill="#F23645" opacity="0.6"/>
<rect x="1316.17" y="159.7" width="2.4" height="9.3" fill="#F23645"/>
<rect x="1320.51" y="162.0" width="1" height="42.0" fill="#F23645" opacity="0.6"/>
<rect x="1319.81" y="164.4" width="2.4" height="37.6" fill="#F23645"/>
<rect x="1324.15" y="189.0" width="1" height="41.0" fill="#F23645" opacity="0.6"/>
<rect x="1323.45" y="191.4" width="2.4" height="10.6" fill="#F23645"/>
<rect x="1327.79" y="192.0" width="1" height="10.0" fill="#089981" opacity="0.6"/>
<rect x="1327.09" y="194.9" width="2.4" height="4.7" fill="#089981"/>
<rect x="1331.43" y="182.0" width="1" height="18.0" fill="#089981" opacity="0.6"/>
<rect x="1330.73" y="184.4" width="2.4" height="12.9" fill="#089981"/>
<rect x="1335.08" y="185.0" width="1" height="22.0" fill="#F23645" opacity="0.6"/>
<rect x="1334.38" y="187.9" width="2.4" height="16.4" fill="#F23645"/>
<rect x="1338.72" y="202.0" width="1" height="10.0" fill="#F23645" opacity="0.6"/>
<rect x="1338.02" y="204.3" width="2.4" height="4.7" fill="#F23645"/>
<rect x="1342.36" y="195.0" width="1" height="14.0" fill="#089981" opacity="0.6"/>
<rect x="1341.66" y="197.3" width="2.4" height="9.3" fill="#089981"/>
<rect x="1346.00" y="185.0" width="1" height="20.0" fill="#089981" opacity="0.6"/>
<rect x="1345.30" y="187.9" width="2.4" height="14.1" fill="#089981"/>
<rect x="1349.64" y="176.0" width="1" height="19.0" fill="#089981" opacity="0.6"/>
<rect x="1348.94" y="178.5" width="2.4" height="14.1" fill="#089981"/>
<rect x="1353.28" y="178.0" width="1" height="20.0" fill="#F23645" opacity="0.6"/>
<rect x="1352.58" y="180.8" width="2.4" height="14.2" fill="#F23645"/>
<rect x="1356.92" y="188.0" width="1" height="10.0" fill="#089981" opacity="0.6"/>
<rect x="1356.22" y="190.2" width="2.4" height="4.8" fill="#089981"/>
<rect x="1360.56" y="176.0" width="1" height="19.0" fill="#089981" opacity="0.6"/>
<rect x="1359.86" y="178.5" width="2.4" height="14.1" fill="#089981"/>
<rect x="1364.20" y="176.0" width="1" height="22.0" fill="#F23645" opacity="0.6"/>
<rect x="1363.50" y="178.5" width="2.4" height="16.5" fill="#F23645"/>
<rect x="1367.84" y="185.0" width="1" height="13.0" fill="#F23645" opacity="0.6"/>
<rect x="1367.14" y="187.9" width="2.4" height="7.1" fill="#F23645"/>
<rect x="1371.48" y="152.0" width="1" height="47.0" fill="#089981" opacity="0.6"/>
<rect x="1370.78" y="155.0" width="2.4" height="37.6" fill="#089981"/>
<rect x="1375.12" y="143.0" width="1" height="17.0" fill="#089981" opacity="0.6"/>
<rect x="1374.42" y="145.7" width="2.4" height="11.7" fill="#089981"/>
<rect x="1378.77" y="119.0" width="1" height="29.0" fill="#089981" opacity="0.6"/>
<rect x="1378.07" y="122.0" width="2.4" height="23.7" fill="#089981"/>
<rect x="1382.41" y="101.0" width="1" height="29.0" fill="#089981" opacity="0.6"/>
<rect x="1381.71" y="103.5" width="2.4" height="23.5" fill="#089981"/>
<rect x="1386.05" y="87.0" width="1" height="24.0" fill="#089981" opacity="0.6"/>
<rect x="1385.35" y="89.4" width="2.4" height="18.6" fill="#089981"/>
<rect x="1389.69" y="87.0" width="1" height="19.0" fill="#F23645" opacity="0.6"/>
<rect x="1388.99" y="89.4" width="2.4" height="14.1" fill="#F23645"/>
<rect x="1393.33" y="92.0" width="1" height="45.9" fill="#F23645" opacity="0.6"/>
<rect x="1392.63" y="94.0" width="2.4" height="30.6" fill="#F23645"/>
<rect x="1396.97" y="120.0" width="1" height="8.0" fill="#089981" opacity="0.6"/>
<rect x="1396.27" y="122.7" width="2.4" height="2.8" fill="#089981"/>
<rect x="1400.61" y="103.0" width="1" height="22.0" fill="#089981" opacity="0.6"/>
<rect x="1399.91" y="105.6" width="2.4" height="17.1" fill="#089981"/>
<rect x="1404.25" y="105.0" width="1" height="20.0" fill="#F23645" opacity="0.6"/>
<rect x="1403.55" y="107.5" width="2.4" height="15.2" fill="#F23645"/>
<rect x="1407.89" y="111.0" width="1" height="23.0" fill="#089981" opacity="0.6"/>
<rect x="1407.19" y="113.2" width="2.4" height="7.6" fill="#089981"/>
<rect x="1411.53" y="105.0" width="1" height="13.0" fill="#089981" opacity="0.6"/>
<rect x="1410.83" y="107.5" width="2.4" height="7.6" fill="#089981"/>
<rect x="1415.17" y="111.0" width="1" height="26.0" fill="#F23645" opacity="0.6"/>
<rect x="1414.47" y="113.2" width="2.4" height="20.8" fill="#F23645"/>
<rect x="1418.81" y="128.0" width="1" height="42.0" fill="#F23645" opacity="0.6"/>
<rect x="1418.11" y="135.0" width="2.4" height="6.7" fill="#F23645"/>
<rect x="1422.46" y="130.0" width="1" height="17.0" fill="#089981" opacity="0.6"/>
<rect x="1421.76" y="136.0" width="2.4" height="7.6" fill="#089981"/>
<rect x="1426.10" y="131.0" width="1" height="11.0" fill="#F23645" opacity="0.6"/>
<rect x="1425.40" y="137.0" width="2.4" height="1.8" fill="#F23645"/>
<rect x="1429.74" y="135.0" width="1" height="37.0" fill="#F23645" opacity="0.6"/>
<rect x="1429.04" y="137.9" width="2.4" height="1.9" fill="#F23645"/>
<rect x="1433.38" y="135.0" width="1" height="40.0" fill="#F23645" opacity="0.6"/>
<rect x="1432.68" y="137.9" width="2.4" height="34.1" fill="#F23645"/>
<rect x="1437.02" y="160.0" width="1" height="23.0" fill="#089981" opacity="0.6"/>
<rect x="1436.32" y="162.6" width="2.4" height="7.6" fill="#089981"/>
<rect x="1440.66" y="160.0" width="1" height="15.0" fill="#089981" opacity="0.6"/>
<rect x="1439.96" y="162.6" width="2.4" height="9.4" fill="#089981"/>
<rect x="1444.30" y="162.0" width="1" height="17.0" fill="#F23645" opacity="0.6"/>
<rect x="1443.60" y="164.5" width="2.4" height="11.4" fill="#F23645"/>
<rect x="1447.94" y="168.0" width="1" height="27.0" fill="#F23645" opacity="0.6"/>
<rect x="1447.24" y="170.2" width="2.4" height="22.8" fill="#F23645"/>
<rect x="1451.58" y="179.0" width="1" height="26.3" fill="#089981" opacity="0.6"/>
<rect x="1450.88" y="181.6" width="2.4" height="11.4" fill="#089981"/>
<rect x="1455.22" y="173.0" width="1" height="11.0" fill="#089981" opacity="0.6"/>
<rect x="1454.52" y="175.9" width="2.4" height="5.7" fill="#089981"/>
<rect x="1458.86" y="166.0" width="1" height="18.0" fill="#089981" opacity="0.6"/>
<rect x="1458.16" y="168.3" width="2.4" height="13.3" fill="#089981"/>
<rect x="1462.50" y="166.0" width="1" height="9.0" fill="#F23645" opacity="0.6"/>
<rect x="1461.80" y="168.3" width="2.4" height="3.7" fill="#F23645"/>
<rect x="1466.15" y="135.0" width="1" height="40.0" fill="#089981" opacity="0.6"/>
<rect x="1465.45" y="139.8" width="2.4" height="32.2" fill="#089981"/>
<rect x="1469.79" y="131.0" width="1" height="15.0" fill="#089981" opacity="0.6"/>
<rect x="1469.09" y="139.8" width="2.4" height="3.8" fill="#089981"/>
<rect x="1473.43" y="137.0" width="1" height="11.0" fill="#089981" opacity="0.6"/>
<rect x="1472.73" y="139.8" width="2.4" height="5.7" fill="#089981"/>
<rect x="1477.07" y="137.0" width="1" height="15.0" fill="#F23645" opacity="0.6"/>
<rect x="1476.37" y="139.8" width="2.4" height="9.5" fill="#F23645"/>
<rect x="1480.71" y="142.0" width="1" height="10.0" fill="#089981" opacity="0.6"/>
<rect x="1480.01" y="147.4" width="2.4" height="1.9" fill="#089981"/>
<rect x="1484.35" y="136.0" width="1" height="18.0" fill="#F23645" opacity="0.6"/>
<rect x="1483.65" y="147.4" width="2.4" height="3.8" fill="#F23645"/>
<rect x="1487.99" y="147.0" width="1" height="22.0" fill="#F23645" opacity="0.6"/>
<rect x="1487.29" y="149.3" width="2.4" height="17.1" fill="#F23645"/>
<rect x="1491.63" y="147.0" width="1" height="22.0" fill="#089981" opacity="0.6"/>
<rect x="1490.93" y="149.3" width="2.4" height="17.1" fill="#089981"/>
<rect x="1495.27" y="145.0" width="1" height="9.0" fill="#089981" opacity="0.6"/>
<rect x="1494.57" y="147.4" width="2.4" height="3.8" fill="#089981"/>
<rect x="1498.91" y="122.0" width="1" height="30.0" fill="#089981" opacity="0.6"/>
<rect x="1498.21" y="124.6" width="2.4" height="24.7" fill="#089981"/>
<rect x="1502.55" y="99.0" width="1" height="34.0" fill="#089981" opacity="0.6"/>
<rect x="1501.85" y="101.8" width="2.4" height="28.5" fill="#089981"/>
<rect x="1506.20" y="98.0" width="1" height="8.0" fill="#089981" opacity="0.6"/>
<rect x="1505.50" y="100.8" width="2.4" height="2.9" fill="#089981"/>
<rect x="1509.84" y="98.0" width="1" height="26.0" fill="#F23645" opacity="0.6"/>
<rect x="1509.14" y="100.0" width="2.4" height="17.0" fill="#F23645"/>
<rect x="1513.48" y="92.0" width="1" height="28.0" fill="#089981" opacity="0.6"/>
<rect x="1512.78" y="94.2" width="2.4" height="22.8" fill="#089981"/>
<rect x="1517.12" y="82.0" width="1" height="21.0" fill="#089981" opacity="0.6"/>
<rect x="1516.42" y="92.3" width="2.4" height="3.7" fill="#089981"/>
<rect x="1520.76" y="82.0" width="1" height="13.0" fill="#089981" opacity="0.6"/>
<rect x="1520.06" y="87.5" width="2.4" height="4.8" fill="#089981"/>
<rect x="1524.40" y="84.0" width="1" height="15.0" fill="#F23645" opacity="0.6"/>
<rect x="1523.70" y="86.6" width="2.4" height="9.5" fill="#F23645"/>
<rect x="1528.04" y="92.0" width="1" height="7.0" fill="#089981" opacity="0.6"/>
<rect x="1527.34" y="94.2" width="2.4" height="1.9" fill="#089981"/>
<rect x="1531.68" y="77.0" width="1" height="20.0" fill="#089981" opacity="0.6"/>
<rect x="1530.98" y="82.8" width="2.4" height="11.4" fill="#089981"/>
<rect x="1535.32" y="78.0" width="1" height="9.0" fill="#F23645" opacity="0.6"/>
<rect x="1534.62" y="82.8" width="2.4" height="1.9" fill="#F23645"/>
<rect x="1538.96" y="82.0" width="1" height="22.0" fill="#F23645" opacity="0.6"/>
<rect x="1538.26" y="84.7" width="2.4" height="8.5" fill="#F23645"/>
<rect x="1542.60" y="77.5" width="1" height="18.5" fill="#089981" opacity="0.6"/>
<rect x="1541.90" y="81.8" width="2.4" height="11.4" fill="#089981"/>
<rect x="1546.24" y="74.2" width="1" height="69.4" fill="#F23645" opacity="0.6"/>
<rect x="1545.54" y="81.8" width="2.4" height="14.3" fill="#F23645"/>
<rect x="1549.89" y="87.0" width="1" height="21.0" fill="#F23645" opacity="0.6"/>
<rect x="1549.19" y="96.1" width="2.4" height="9.5" fill="#F23645"/>
<rect x="1553.53" y="94.0" width="1" height="13.0" fill="#089981" opacity="0.6"/>
<rect x="1552.83" y="97.0" width="2.4" height="7.6" fill="#089981"/>
<rect x="1557.17" y="95.0" width="1" height="13.0" fill="#F23645" opacity="0.6"/>
<rect x="1556.47" y="98.0" width="2.4" height="7.6" fill="#F23645"/>
<rect x="1560.81" y="103.0" width="1" height="17.0" fill="#F23645" opacity="0.6"/>
<rect x="1560.11" y="105.6" width="2.4" height="11.4" fill="#F23645"/>
<rect x="1564.45" y="113.0" width="1" height="20.0" fill="#F23645" opacity="0.6"/>
<rect x="1563.75" y="115.0" width="2.4" height="15.3" fill="#F23645"/>
<rect x="1568.09" y="124.0" width="1" height="29.0" fill="#F23645" opacity="0.6"/>
<rect x="1567.39" y="126.5" width="2.4" height="17.1" fill="#F23645"/>
<rect x="1571.73" y="135.0" width="1" height="11.0" fill="#089981" opacity="0.6"/>
<rect x="1571.03" y="137.9" width="2.4" height="5.7" fill="#089981"/>
<rect x="1575.37" y="127.0" width="1" height="21.3" fill="#089981" opacity="0.6"/>
<rect x="1574.67" y="136.9" width="2.4" height="1.0" fill="#089981"/>
<rect x="1579.01" y="126.0" width="1" height="16.0" fill="#F23645" opacity="0.6"/>
<rect x="1578.31" y="136.9" width="2.4" height="2.9" fill="#F23645"/>
<rect x="1582.65" y="134.6" width="1" height="11.6" fill="#F23645" opacity="0.6"/>
<rect x="1581.95" y="138.9" width="2.4" height="4.3" fill="#F23645"/>
<g stroke="#4CAF50" stroke-width="2" fill="none"><line x1="133.3" y1="407.8" x2="254.5" y2="407.8"/><line x1="133.3" y1="745.5" x2="254.5" y2="745.5"/><line x1="194" y1="407.8" x2="194" y2="745.5"/><polyline points="178,730 194,745.5 209.8,730"/><line x1="876.5" y1="131.9" x2="917.5" y2="131.9"/><line x1="876.5" y1="321.5" x2="917.5" y2="321.5"/><line x1="896.6" y1="131.9" x2="896.6" y2="321.5"/><polyline points="880.4,306 896.6,321.5 913.2,306"/></g>
<line x1="0" y1="143.5" x2="1635" y2="143.5" stroke="#F23645" stroke-width="1" stroke-dasharray="1 1.5" opacity="0.45"/>
<rect x="61.6" y="756.3" width="263.5" height="25.4" rx="4" fill="#BCCDE8"/>
<text x="71.5" y="774" font-size="13" fill="#131722" letter-spacing="0.3">−224.17 B (−85.58%) −224,166,938,669</text>
<rect x="765" y="332.6" width="263.6" height="25.5" rx="4" fill="#BCCDE8"/>
<text x="774.3" y="350.6" font-size="13" fill="#131722" letter-spacing="0.36">−840.44 B (−66.28%) −840,436,133,827</text>
</g></g>
<g style="opacity:0.995">
<line x1="0" y1="1.8" x2="1700" y2="1.8" stroke="#f4f4f4" stroke-width="1.3"/>
<line x1="0.5" y1="1" x2="0.5" y2="841" stroke="#f0f0f0" stroke-width="1"/>
<line x1="1699.3" y1="1" x2="1699.3" y2="841" stroke="#f0f0f0" stroke-width="1.2"/>
<line x1="0" y1="840.7" x2="1700" y2="840.7" stroke="#f0f0f0" stroke-width="1.4"/>
<text x="1644.7" y="48.6" font-size="13" fill="#2a2e39" word-spacing="-1.3">2.1 T</text>
<text x="1644.7" y="196.6" font-size="13" fill="#2a2e39" word-spacing="-1.3">900 B</text>
<text x="1644.7" y="230.8" font-size="13" fill="#2a2e39" word-spacing="-1.3">740 B</text>
<text x="1644.7" y="273.4" font-size="13" fill="#2a2e39" word-spacing="-1.3">580 B</text>
<text x="1644.7" y="306.4" font-size="13" fill="#2a2e39" word-spacing="-1.3">480 B</text>
<text x="1644.7" y="338.3" font-size="13" fill="#2a2e39" word-spacing="-1.3">400 B</text>
<text x="1644.7" y="377.3" font-size="13" fill="#2a2e39" word-spacing="-1.3">320 B</text>
<text x="1644.7" y="413.6" font-size="13" fill="#2a2e39" word-spacing="-1.3">260 B</text>
<text x="1644.7" y="450.9" font-size="13" fill="#2a2e39" word-spacing="-1.3">210 B</text>
<text x="1644.7" y="487.8" font-size="13" fill="#2a2e39" word-spacing="-1.3">170 B</text>
<text x="1644.7" y="521.7" font-size="13" fill="#2a2e39" word-spacing="-1.3">140 B</text>
<text x="1644.7" y="556.1" font-size="13" fill="#2a2e39" word-spacing="-1.3">115 B</text>
<text x="1644.7" y="589.4" font-size="13" fill="#2a2e39" word-spacing="-1.3">95 B</text>
<text x="1644.7" y="621.7" font-size="13" fill="#2a2e39" word-spacing="-1.3">79 B</text>
<text x="1644.7" y="658.4" font-size="13" fill="#2a2e39" word-spacing="-1.3">64 B</text>
<text x="1644.7" y="694.7" font-size="13" fill="#2a2e39" word-spacing="-1.3">52 B</text>
<text x="1644.7" y="727.9" font-size="13" fill="#2a2e39" word-spacing="-1.3">43 B</text>
<text x="1644.7" y="763.9" font-size="13" fill="#2a2e39" word-spacing="-1.3">35 B</text>
<text x="1644.7" y="796.7" font-size="13" fill="#2a2e39" word-spacing="-1.3">29 B</text>
<text x="72.5" y="831.2" font-size="13" font-weight="bold" fill="#1e222d" text-anchor="middle" letter-spacing="0.9">2018</text>
<text x="166.3" y="831.2" font-size="13" fill="#2a2e39" text-anchor="middle">Jul</text>
<text x="265.1" y="831.2" font-size="13" font-weight="bold" fill="#1e222d" text-anchor="middle" letter-spacing="0.9">2019</text>
<text x="356.2" y="831.2" font-size="13" fill="#2a2e39" text-anchor="middle">Jul</text>
<text x="454.3" y="831.2" font-size="13" font-weight="bold" fill="#1e222d" text-anchor="middle" letter-spacing="0.9">2020</text>
<text x="549.2" y="831.2" font-size="13" fill="#2a2e39" text-anchor="middle">Jul</text>
<text x="643.7" y="831.2" font-size="13" font-weight="bold" fill="#1e222d" text-anchor="middle" letter-spacing="0.9">2021</text>
<text x="738.5" y="831.2" font-size="13" fill="#2a2e39" text-anchor="middle">Jul</text>
<text x="833.1" y="831.2" font-size="13" font-weight="bold" fill="#1e222d" text-anchor="middle" letter-spacing="0.9">2022</text>
<text x="927.7" y="831.2" font-size="13" fill="#2a2e39" text-anchor="middle">Jul</text>
<text x="1022.5" y="831.2" font-size="13" font-weight="bold" fill="#1e222d" text-anchor="middle" letter-spacing="0.9">2023</text>
<text x="1117.2" y="831.2" font-size="13" fill="#2a2e39" text-anchor="middle">Jul</text>
<text x="1211.8" y="831.2" font-size="13" font-weight="bold" fill="#1e222d" text-anchor="middle" letter-spacing="0.9">2024</text>
<text x="1306.5" y="831.2" font-size="13" fill="#2a2e39" text-anchor="middle">Jul</text>
<text x="1404.4" y="831.2" font-size="13" font-weight="bold" fill="#1e222d" text-anchor="middle" letter-spacing="0.9">2025</text>
<text x="1499.2" y="831.2" font-size="13" fill="#2a2e39" text-anchor="middle">Jul</text>
<text x="1593.8" y="831.2" font-size="13" font-weight="bold" fill="#1e222d" text-anchor="middle" letter-spacing="0.9">2026</text>
<rect x="1639.5" y="5.5" width="57" height="27" rx="5" fill="#fff" stroke="#e0e3eb"/>
<text x="1661.5" y="23.8" font-size="13" fill="#131722" text-anchor="middle" letter-spacing="-0.3">USD</text>
<path d="M1636,71.8 h48 a3,3 0 0 1 3,3 v11.0 a3,3 0 0 1 -3,3 h-48 z" fill="#F15E32"/>
<text x="1645" y="84.4" font-size="13" fill="#fff" word-spacing="-1.3">1.71 T</text>
<path d="M1636,99.4 h39 a3,3 0 0 1 3,3 v11.399999999999991 a3,3 0 0 1 -3,3 h-39 z" fill="#FFE629"/>
<text x="1645" y="112.0" font-size="13" fill="#131722" word-spacing="-1.3">1.3 T</text>
<path d="M1636,117.2 h48 a3,3 0 0 1 3,3 v11.200000000000003 a3,3 0 0 1 -3,3 h-48 z" fill="#4BAE69"/>
<text x="1645" y="129.8" font-size="13" fill="#fff" word-spacing="-1.3">1.22 T</text>
<path d="M1636,134.8 h52.7 a3,3 0 0 1 3,3 v25.19999999999999 a3,3 0 0 1 -3,3 h-52.7 z" fill="#F23645"/>
<text x="1645" y="147.4" font-size="13" fill="#fff" word-spacing="-1.3">1.19 T</text>
<text x="1645" y="162.2" font-size="13" fill="#fff">4d 18h</text>
<text x="9.5" y="23" font-size="13" fill="#1e222d" letter-spacing="-0.12">Crypto Total Market Cap Excluding BTC, $ · 1W · CRYPTOCAP</text>
<text x="377.7" y="23" font-size="13" fill="#131722" word-spacing="-1.3" letter-spacing="-0.45">O</text>
<text x="387" y="23" font-size="13" fill="#F23645" word-spacing="-1.3" letter-spacing="-0.45">1.22 T</text>
<text x="428.1" y="23" font-size="13" fill="#131722" word-spacing="-1.3" letter-spacing="-0.45">H</text>
<text x="436.8" y="23" font-size="13" fill="#F23645" word-spacing="-1.3" letter-spacing="-0.45">1.25 T</text>
<text x="478" y="23" font-size="13" fill="#131722" word-spacing="-1.3" letter-spacing="-0.45">L</text>
<text x="484" y="23" font-size="13" fill="#F23645" word-spacing="-1.3" letter-spacing="-0.45">1.17 T</text>
<text x="523.2" y="23" font-size="13" fill="#131722" word-spacing="-1.3" letter-spacing="-0.45">C</text>
<text x="532.5" y="23" font-size="13" fill="#F23645" word-spacing="-1.3" letter-spacing="-0.45">1.19 T</text>
<text x="571.6" y="23" font-size="13" fill="#F23645" word-spacing="-1.3" letter-spacing="-0.1">−28.71 B (−2.35%)</text>
<text x="9.5" y="40.4" font-size="13" fill="#1e222d">EMA 20/50/100/200</text>
<text x="133.4" y="40.4" font-size="13" fill="#F5D416" word-spacing="-1.3" letter-spacing="-0.5">1.3 T</text>
<text x="9.5" y="57.8" font-size="13" fill="#1e222d">Supertrend (10, 3)</text>
<g fill="none" stroke="#2a2e39" stroke-width="1.25"><circle cx="127.3" cy="53.9" r="3.5"/><line x1="130.9" y1="50.1" x2="123.7" y2="57.7"/></g>
<text x="139.3" y="57.8" font-size="13" fill="#F0643C" word-spacing="-1.3" letter-spacing="-0.7">1.71 T</text>
<circle cx="1583.6" cy="772" r="10" fill="#fff" stroke="#9C27B0" stroke-width="1.4"/>
<polyline points="1586.2,767 1580.2,772.5 1587.3,771.8 1580.9,777.3" fill="none" stroke="#9C27B0" stroke-width="1.9" stroke-linejoin="round" stroke-linecap="round"/>
<circle cx="1582.7" cy="797.8" r="10.4" fill="#fff" stroke="#F23645" stroke-width="1.7"/>
<clipPath id="fc"><circle cx="1582.7" cy="797.8" r="8.1"/></clipPath>
<g clip-path="url(#fc)"><rect x="1574" y="789" width="18" height="18" fill="#fff"/><rect x="1574" y="789" width="18" height="3.6" fill="#EF4444"/><rect x="1574" y="795.6" width="18" height="3.6" fill="#EF4444"/><rect x="1574" y="802.6" width="18" height="3.6" fill="#EF4444"/><rect x="1574" y="789" width="11.1" height="10.6" fill="#2F80ED"/><g fill="#fff" opacity="0.85"><circle cx="1578.5" cy="791.6" r="0.6"/><circle cx="1581" cy="791.6" r="0.6"/><circle cx="1583.3" cy="791.6" r="0.6"/><circle cx="1577" cy="794.6" r="0.6"/><circle cx="1579.6" cy="794.6" r="0.6"/><circle cx="1582.2" cy="794.6" r="0.6"/><circle cx="1576.5" cy="797.5" r="0.6"/><circle cx="1579" cy="797.5" r="0.6"/><circle cx="1581.6" cy="797.5" r="0.6"/><circle cx="1583.8" cy="797.5" r="0.6"/></g></g>
<g fill="#131722"><path d="M2.3,864.2 h11.6 v16 h-6 v-10.4 h-5.6 z"/><circle cx="20.4" cy="867.3" r="3.1"/><path d="M26.5,864.2 h7 l-7.3,16 h-7 z"/></g>
<text x="41" y="880.2" font-size="22" font-weight="bold" fill="#131722" letter-spacing="-0.4">TradingView</text>
</g>
</svg>
</body></html>
